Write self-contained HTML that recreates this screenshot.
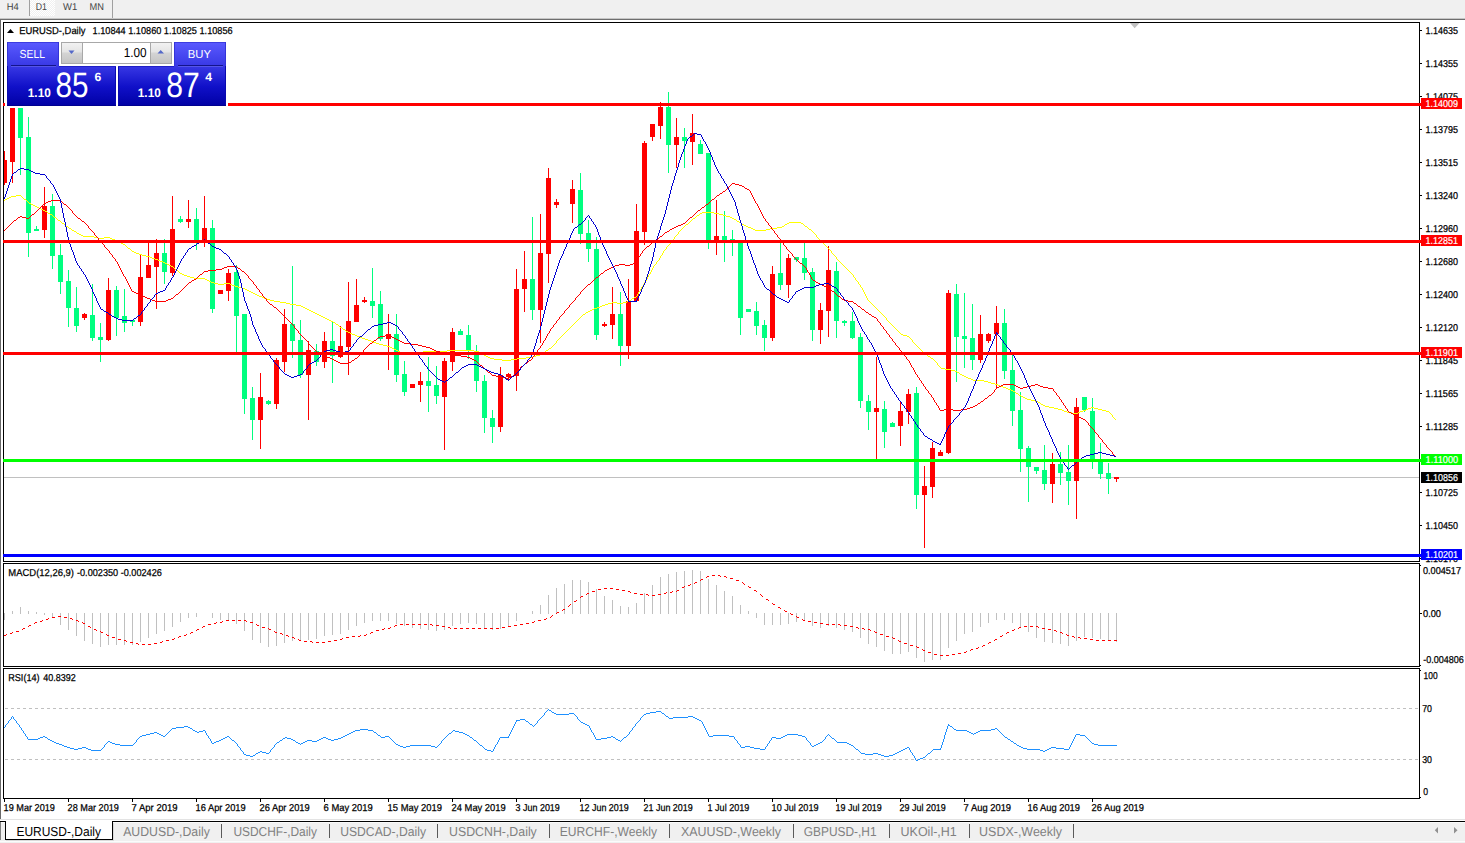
<!DOCTYPE html>
<html><head><meta charset="utf-8"><title>EURUSD-,Daily</title>
<style>html,body{margin:0;padding:0;background:#fff}body{width:1465px;height:843px;overflow:hidden;position:relative}svg{position:absolute;left:0;top:0;display:block}text{font-family:"Liberation Sans",sans-serif;white-space:pre;text-rendering:geometricPrecision}</style></head><body>
<svg width="1465" height="843" viewBox="0 0 1465 843">
<defs>
<clipPath id="cm"><rect x="4" y="23" width="1415" height="538"/></clipPath>
<linearGradient id="gb" x1="0" y1="42" x2="0" y2="106" gradientUnits="userSpaceOnUse"><stop offset="0" stop-color="#5a5aff"/><stop offset="0.36" stop-color="#3a3ae6"/><stop offset="0.7" stop-color="#1010c8"/><stop offset="1" stop-color="#0000a4"/></linearGradient>
<linearGradient id="gs" x1="0" y1="0" x2="0" y2="1"><stop offset="0" stop-color="#f2f2f2"/><stop offset="0.45" stop-color="#e4e4e4"/><stop offset="0.5" stop-color="#d4d4d4"/><stop offset="1" stop-color="#c4c4c4"/></linearGradient>
<pattern id="dots" width="2" height="2" patternUnits="userSpaceOnUse"><rect width="2" height="2" fill="#f0f0f0"/><rect width="1" height="1" fill="#fff"/><rect x="1" y="1" width="1" height="1" fill="#fff"/></pattern>
</defs>
<g shape-rendering="crispEdges">
<rect x="0" y="0" width="1465" height="18" fill="#f0f0f0"/>
<rect x="0" y="18" width="1465" height="1" fill="#c6c6c6"/>
<rect x="0" y="19" width="1465" height="1" fill="#6e6e6e"/>
<rect x="30" y="0" width="25" height="16" fill="url(#dots)"/>
<rect x="29" y="0" width="1" height="16" fill="#a0a0a0"/>
<rect x="112" y="0" width="1" height="18" fill="#a0a0a0"/>
<rect x="0" y="20" width="1" height="800" fill="#696969"/>
<rect x="3" y="22" width="1417" height="1" fill="#000"/>
<rect x="3" y="561" width="1417" height="1" fill="#000"/>
<rect x="3" y="22" width="1" height="540" fill="#000"/>
<rect x="1419" y="22" width="1" height="540" fill="#000"/>
<rect x="3" y="563" width="1417" height="1" fill="#000"/>
<rect x="3" y="666" width="1417" height="1" fill="#000"/>
<rect x="3" y="563" width="1" height="104" fill="#000"/>
<rect x="1419" y="563" width="1" height="104" fill="#000"/>
<rect x="3" y="668" width="1417" height="1" fill="#000"/>
<rect x="3" y="798" width="1417" height="1" fill="#000"/>
<rect x="3" y="668" width="1" height="131" fill="#000"/>
<rect x="1419" y="668" width="1" height="131" fill="#000"/>
<rect x="1420" y="30" width="2" height="1" fill="#000"/>
<rect x="1420" y="63" width="2" height="1" fill="#000"/>
<rect x="1420" y="96" width="2" height="1" fill="#000"/>
<rect x="1420" y="129" width="2" height="1" fill="#000"/>
<rect x="1420" y="162" width="2" height="1" fill="#000"/>
<rect x="1420" y="195" width="2" height="1" fill="#000"/>
<rect x="1420" y="228" width="2" height="1" fill="#000"/>
<rect x="1420" y="261" width="2" height="1" fill="#000"/>
<rect x="1420" y="294" width="2" height="1" fill="#000"/>
<rect x="1420" y="327" width="2" height="1" fill="#000"/>
<rect x="1420" y="360" width="2" height="1" fill="#000"/>
<rect x="1420" y="393" width="2" height="1" fill="#000"/>
<rect x="1420" y="426" width="2" height="1" fill="#000"/>
<rect x="1420" y="459" width="2" height="1" fill="#000"/>
<rect x="1420" y="492" width="2" height="1" fill="#000"/>
<rect x="1420" y="525" width="2" height="1" fill="#000"/>
<rect x="1420" y="558" width="2" height="1" fill="#000"/>
<rect x="1420" y="565" width="1" height="1" fill="#000"/>
<rect x="1420" y="613" width="2" height="1" fill="#000"/>
<rect x="1420" y="665" width="1" height="1" fill="#000"/>
<rect x="1420" y="670" width="1" height="1" fill="#000"/>
<rect x="1420" y="797" width="1" height="1" fill="#000"/>
<rect x="4" y="799" width="1" height="3" fill="#000"/>
<rect x="68" y="799" width="1" height="3" fill="#000"/>
<rect x="132" y="799" width="1" height="3" fill="#000"/>
<rect x="196" y="799" width="1" height="3" fill="#000"/>
<rect x="260" y="799" width="1" height="3" fill="#000"/>
<rect x="324" y="799" width="1" height="3" fill="#000"/>
<rect x="388" y="799" width="1" height="3" fill="#000"/>
<rect x="452" y="799" width="1" height="3" fill="#000"/>
<rect x="516" y="799" width="1" height="3" fill="#000"/>
<rect x="580" y="799" width="1" height="3" fill="#000"/>
<rect x="644" y="799" width="1" height="3" fill="#000"/>
<rect x="708" y="799" width="1" height="3" fill="#000"/>
<rect x="772" y="799" width="1" height="3" fill="#000"/>
<rect x="836" y="799" width="1" height="3" fill="#000"/>
<rect x="900" y="799" width="1" height="3" fill="#000"/>
<rect x="964" y="799" width="1" height="3" fill="#000"/>
<rect x="1028" y="799" width="1" height="3" fill="#000"/>
<rect x="1092" y="799" width="1" height="3" fill="#000"/>
</g>
<g clip-path="url(#cm)" shape-rendering="crispEdges">
<rect x="4" y="477" width="1415" height="1" fill="#c0c0c0"/>
<rect x="4" y="151" width="1" height="34" fill="#ff0000"/>
<rect x="2" y="160" width="5" height="23" fill="#ff0000"/>
<rect x="12" y="60" width="1" height="123" fill="#ff0000"/>
<rect x="10" y="60" width="5" height="102" fill="#ff0000"/>
<rect x="20" y="60" width="1" height="115" fill="#00ff7f"/>
<rect x="18" y="60" width="5" height="78" fill="#00ff7f"/>
<rect x="28" y="117" width="1" height="140" fill="#00ff7f"/>
<rect x="26" y="137" width="5" height="96" fill="#00ff7f"/>
<rect x="36" y="226" width="1" height="5" fill="#00ff7f"/>
<rect x="34" y="229" width="5" height="2" fill="#00ff7f"/>
<rect x="44" y="187" width="1" height="51" fill="#ff0000"/>
<rect x="42" y="206" width="5" height="24" fill="#ff0000"/>
<rect x="52" y="194" width="1" height="75" fill="#00ff7f"/>
<rect x="50" y="206" width="5" height="50" fill="#00ff7f"/>
<rect x="60" y="244" width="1" height="50" fill="#00ff7f"/>
<rect x="58" y="255" width="5" height="27" fill="#00ff7f"/>
<rect x="68" y="270" width="1" height="57" fill="#00ff7f"/>
<rect x="66" y="281" width="5" height="27" fill="#00ff7f"/>
<rect x="76" y="287" width="1" height="45" fill="#00ff7f"/>
<rect x="74" y="308" width="5" height="18" fill="#00ff7f"/>
<rect x="84" y="313" width="1" height="7" fill="#ff0000"/>
<rect x="82" y="314" width="5" height="4" fill="#ff0000"/>
<rect x="92" y="284" width="1" height="57" fill="#00ff7f"/>
<rect x="90" y="315" width="5" height="23" fill="#00ff7f"/>
<rect x="100" y="323" width="1" height="39" fill="#00ff7f"/>
<rect x="98" y="337" width="5" height="3" fill="#00ff7f"/>
<rect x="108" y="278" width="1" height="63" fill="#ff0000"/>
<rect x="106" y="290" width="5" height="50" fill="#ff0000"/>
<rect x="116" y="286" width="1" height="50" fill="#00ff7f"/>
<rect x="114" y="290" width="5" height="28" fill="#00ff7f"/>
<rect x="124" y="289" width="1" height="43" fill="#00ff7f"/>
<rect x="122" y="316" width="5" height="7" fill="#00ff7f"/>
<rect x="132" y="320" width="1" height="6" fill="#00ff7f"/>
<rect x="130" y="320" width="5" height="2" fill="#00ff7f"/>
<rect x="140" y="255" width="1" height="71" fill="#ff0000"/>
<rect x="138" y="277" width="5" height="45" fill="#ff0000"/>
<rect x="148" y="242" width="1" height="36" fill="#ff0000"/>
<rect x="146" y="265" width="5" height="13" fill="#ff0000"/>
<rect x="156" y="239" width="1" height="70" fill="#ff0000"/>
<rect x="154" y="253" width="5" height="14" fill="#ff0000"/>
<rect x="164" y="239" width="1" height="45" fill="#00ff7f"/>
<rect x="162" y="253" width="5" height="19" fill="#00ff7f"/>
<rect x="172" y="196" width="1" height="80" fill="#ff0000"/>
<rect x="170" y="229" width="5" height="44" fill="#ff0000"/>
<rect x="180" y="216" width="1" height="7" fill="#00ff7f"/>
<rect x="178" y="219" width="5" height="3" fill="#00ff7f"/>
<rect x="188" y="200" width="1" height="28" fill="#ff0000"/>
<rect x="186" y="219" width="5" height="3" fill="#ff0000"/>
<rect x="196" y="208" width="1" height="42" fill="#00ff7f"/>
<rect x="194" y="219" width="5" height="23" fill="#00ff7f"/>
<rect x="204" y="196" width="1" height="51" fill="#ff0000"/>
<rect x="202" y="228" width="5" height="12" fill="#ff0000"/>
<rect x="212" y="220" width="1" height="93" fill="#00ff7f"/>
<rect x="210" y="228" width="5" height="81" fill="#00ff7f"/>
<rect x="220" y="290" width="1" height="4" fill="#ff0000"/>
<rect x="218" y="290" width="5" height="4" fill="#ff0000"/>
<rect x="228" y="269" width="1" height="32" fill="#ff0000"/>
<rect x="226" y="273" width="5" height="18" fill="#ff0000"/>
<rect x="236" y="265" width="1" height="87" fill="#00ff7f"/>
<rect x="234" y="272" width="5" height="44" fill="#00ff7f"/>
<rect x="244" y="314" width="1" height="100" fill="#00ff7f"/>
<rect x="242" y="314" width="5" height="85" fill="#00ff7f"/>
<rect x="252" y="387" width="1" height="53" fill="#00ff7f"/>
<rect x="250" y="398" width="5" height="22" fill="#00ff7f"/>
<rect x="260" y="373" width="1" height="76" fill="#ff0000"/>
<rect x="258" y="397" width="5" height="23" fill="#ff0000"/>
<rect x="268" y="400" width="1" height="5" fill="#00ff7f"/>
<rect x="266" y="401" width="5" height="3" fill="#00ff7f"/>
<rect x="276" y="358" width="1" height="51" fill="#ff0000"/>
<rect x="274" y="360" width="5" height="44" fill="#ff0000"/>
<rect x="284" y="309" width="1" height="63" fill="#ff0000"/>
<rect x="282" y="324" width="5" height="38" fill="#ff0000"/>
<rect x="292" y="266" width="1" height="92" fill="#00ff7f"/>
<rect x="290" y="324" width="5" height="17" fill="#00ff7f"/>
<rect x="300" y="320" width="1" height="58" fill="#00ff7f"/>
<rect x="298" y="340" width="5" height="35" fill="#00ff7f"/>
<rect x="308" y="341" width="1" height="79" fill="#ff0000"/>
<rect x="306" y="350" width="5" height="25" fill="#ff0000"/>
<rect x="316" y="344" width="1" height="22" fill="#00ff7f"/>
<rect x="314" y="351" width="5" height="11" fill="#00ff7f"/>
<rect x="324" y="332" width="1" height="36" fill="#ff0000"/>
<rect x="322" y="341" width="5" height="21" fill="#ff0000"/>
<rect x="332" y="321" width="1" height="62" fill="#00ff7f"/>
<rect x="330" y="341" width="5" height="15" fill="#00ff7f"/>
<rect x="340" y="326" width="1" height="32" fill="#ff0000"/>
<rect x="338" y="346" width="5" height="11" fill="#ff0000"/>
<rect x="348" y="282" width="1" height="93" fill="#ff0000"/>
<rect x="346" y="321" width="5" height="26" fill="#ff0000"/>
<rect x="356" y="279" width="1" height="43" fill="#ff0000"/>
<rect x="354" y="305" width="5" height="17" fill="#ff0000"/>
<rect x="364" y="297" width="1" height="6" fill="#ff0000"/>
<rect x="362" y="300" width="5" height="2" fill="#ff0000"/>
<rect x="372" y="268" width="1" height="50" fill="#00ff7f"/>
<rect x="370" y="301" width="5" height="5" fill="#00ff7f"/>
<rect x="380" y="291" width="1" height="50" fill="#00ff7f"/>
<rect x="378" y="304" width="5" height="35" fill="#00ff7f"/>
<rect x="388" y="314" width="1" height="56" fill="#ff0000"/>
<rect x="386" y="334" width="5" height="5" fill="#ff0000"/>
<rect x="396" y="314" width="1" height="68" fill="#00ff7f"/>
<rect x="394" y="334" width="5" height="41" fill="#00ff7f"/>
<rect x="404" y="361" width="1" height="35" fill="#00ff7f"/>
<rect x="402" y="374" width="5" height="18" fill="#00ff7f"/>
<rect x="412" y="384" width="1" height="4" fill="#ff0000"/>
<rect x="410" y="384" width="5" height="4" fill="#ff0000"/>
<rect x="420" y="372" width="1" height="30" fill="#ff0000"/>
<rect x="418" y="381" width="5" height="4" fill="#ff0000"/>
<rect x="428" y="357" width="1" height="55" fill="#00ff7f"/>
<rect x="426" y="381" width="5" height="5" fill="#00ff7f"/>
<rect x="436" y="366" width="1" height="38" fill="#00ff7f"/>
<rect x="434" y="385" width="5" height="11" fill="#00ff7f"/>
<rect x="444" y="358" width="1" height="92" fill="#ff0000"/>
<rect x="442" y="361" width="5" height="36" fill="#ff0000"/>
<rect x="452" y="328" width="1" height="43" fill="#ff0000"/>
<rect x="450" y="332" width="5" height="30" fill="#ff0000"/>
<rect x="460" y="329" width="1" height="6" fill="#00ff7f"/>
<rect x="458" y="331" width="5" height="4" fill="#00ff7f"/>
<rect x="468" y="325" width="1" height="34" fill="#00ff7f"/>
<rect x="466" y="335" width="5" height="16" fill="#00ff7f"/>
<rect x="476" y="345" width="1" height="47" fill="#00ff7f"/>
<rect x="474" y="351" width="5" height="30" fill="#00ff7f"/>
<rect x="484" y="375" width="1" height="58" fill="#00ff7f"/>
<rect x="482" y="381" width="5" height="37" fill="#00ff7f"/>
<rect x="492" y="410" width="1" height="33" fill="#00ff7f"/>
<rect x="490" y="418" width="5" height="9" fill="#00ff7f"/>
<rect x="500" y="367" width="1" height="65" fill="#ff0000"/>
<rect x="498" y="375" width="5" height="52" fill="#ff0000"/>
<rect x="508" y="373" width="1" height="7" fill="#ff0000"/>
<rect x="506" y="374" width="5" height="3" fill="#ff0000"/>
<rect x="516" y="269" width="1" height="122" fill="#ff0000"/>
<rect x="514" y="289" width="5" height="87" fill="#ff0000"/>
<rect x="524" y="251" width="1" height="61" fill="#ff0000"/>
<rect x="522" y="279" width="5" height="10" fill="#ff0000"/>
<rect x="532" y="217" width="1" height="103" fill="#00ff7f"/>
<rect x="530" y="279" width="5" height="31" fill="#00ff7f"/>
<rect x="540" y="214" width="1" height="129" fill="#ff0000"/>
<rect x="538" y="253" width="5" height="57" fill="#ff0000"/>
<rect x="548" y="168" width="1" height="115" fill="#ff0000"/>
<rect x="546" y="178" width="5" height="76" fill="#ff0000"/>
<rect x="556" y="199" width="1" height="9" fill="#ff0000"/>
<rect x="554" y="202" width="5" height="3" fill="#ff0000"/>
<rect x="572" y="180" width="1" height="43" fill="#ff0000"/>
<rect x="570" y="189" width="5" height="15" fill="#ff0000"/>
<rect x="580" y="173" width="1" height="71" fill="#00ff7f"/>
<rect x="578" y="190" width="5" height="44" fill="#00ff7f"/>
<rect x="588" y="220" width="1" height="42" fill="#00ff7f"/>
<rect x="586" y="233" width="5" height="16" fill="#00ff7f"/>
<rect x="596" y="237" width="1" height="103" fill="#00ff7f"/>
<rect x="594" y="249" width="5" height="86" fill="#00ff7f"/>
<rect x="604" y="322" width="1" height="5" fill="#ff0000"/>
<rect x="602" y="324" width="5" height="2" fill="#ff0000"/>
<rect x="612" y="287" width="1" height="52" fill="#ff0000"/>
<rect x="610" y="314" width="5" height="11" fill="#ff0000"/>
<rect x="620" y="292" width="1" height="74" fill="#00ff7f"/>
<rect x="618" y="314" width="5" height="32" fill="#00ff7f"/>
<rect x="628" y="279" width="1" height="80" fill="#ff0000"/>
<rect x="626" y="301" width="5" height="45" fill="#ff0000"/>
<rect x="636" y="204" width="1" height="97" fill="#ff0000"/>
<rect x="634" y="231" width="5" height="70" fill="#ff0000"/>
<rect x="644" y="141" width="1" height="104" fill="#ff0000"/>
<rect x="642" y="143" width="5" height="89" fill="#ff0000"/>
<rect x="652" y="124" width="1" height="17" fill="#ff0000"/>
<rect x="650" y="124" width="5" height="13" fill="#ff0000"/>
<rect x="660" y="102" width="1" height="37" fill="#ff0000"/>
<rect x="658" y="107" width="5" height="19" fill="#ff0000"/>
<rect x="668" y="92" width="1" height="81" fill="#00ff7f"/>
<rect x="666" y="107" width="5" height="38" fill="#00ff7f"/>
<rect x="676" y="118" width="1" height="50" fill="#ff0000"/>
<rect x="674" y="137" width="5" height="8" fill="#ff0000"/>
<rect x="684" y="128" width="1" height="40" fill="#00ff7f"/>
<rect x="682" y="137" width="5" height="4" fill="#00ff7f"/>
<rect x="692" y="114" width="1" height="51" fill="#ff0000"/>
<rect x="690" y="133" width="5" height="9" fill="#ff0000"/>
<rect x="700" y="140" width="1" height="14" fill="#00ff7f"/>
<rect x="698" y="144" width="5" height="10" fill="#00ff7f"/>
<rect x="708" y="153" width="1" height="96" fill="#00ff7f"/>
<rect x="706" y="153" width="5" height="88" fill="#00ff7f"/>
<rect x="716" y="200" width="1" height="55" fill="#ff0000"/>
<rect x="714" y="236" width="5" height="5" fill="#ff0000"/>
<rect x="724" y="211" width="1" height="51" fill="#00ff7f"/>
<rect x="722" y="236" width="5" height="5" fill="#00ff7f"/>
<rect x="732" y="230" width="1" height="26" fill="#00ff7f"/>
<rect x="730" y="239" width="5" height="2" fill="#00ff7f"/>
<rect x="740" y="241" width="1" height="94" fill="#00ff7f"/>
<rect x="738" y="241" width="5" height="77" fill="#00ff7f"/>
<rect x="748" y="309" width="1" height="3" fill="#00ff7f"/>
<rect x="746" y="309" width="5" height="3" fill="#00ff7f"/>
<rect x="756" y="302" width="1" height="33" fill="#00ff7f"/>
<rect x="754" y="311" width="5" height="15" fill="#00ff7f"/>
<rect x="764" y="320" width="1" height="31" fill="#00ff7f"/>
<rect x="762" y="325" width="5" height="13" fill="#00ff7f"/>
<rect x="772" y="266" width="1" height="75" fill="#ff0000"/>
<rect x="770" y="274" width="5" height="64" fill="#ff0000"/>
<rect x="780" y="243" width="1" height="47" fill="#00ff7f"/>
<rect x="778" y="273" width="5" height="12" fill="#00ff7f"/>
<rect x="788" y="254" width="1" height="44" fill="#ff0000"/>
<rect x="786" y="258" width="5" height="27" fill="#ff0000"/>
<rect x="796" y="257" width="1" height="5" fill="#00ff7f"/>
<rect x="794" y="257" width="5" height="3" fill="#00ff7f"/>
<rect x="804" y="243" width="1" height="37" fill="#00ff7f"/>
<rect x="802" y="258" width="5" height="15" fill="#00ff7f"/>
<rect x="812" y="268" width="1" height="73" fill="#00ff7f"/>
<rect x="810" y="272" width="5" height="58" fill="#00ff7f"/>
<rect x="820" y="303" width="1" height="41" fill="#ff0000"/>
<rect x="818" y="310" width="5" height="20" fill="#ff0000"/>
<rect x="828" y="246" width="1" height="91" fill="#ff0000"/>
<rect x="826" y="270" width="5" height="41" fill="#ff0000"/>
<rect x="836" y="262" width="1" height="76" fill="#00ff7f"/>
<rect x="834" y="271" width="5" height="50" fill="#00ff7f"/>
<rect x="844" y="320" width="1" height="6" fill="#00ff7f"/>
<rect x="842" y="321" width="5" height="2" fill="#00ff7f"/>
<rect x="852" y="312" width="1" height="27" fill="#00ff7f"/>
<rect x="850" y="321" width="5" height="17" fill="#00ff7f"/>
<rect x="860" y="333" width="1" height="75" fill="#00ff7f"/>
<rect x="858" y="337" width="5" height="64" fill="#00ff7f"/>
<rect x="868" y="395" width="1" height="35" fill="#00ff7f"/>
<rect x="866" y="401" width="5" height="11" fill="#00ff7f"/>
<rect x="876" y="357" width="1" height="102" fill="#ff0000"/>
<rect x="874" y="408" width="5" height="4" fill="#ff0000"/>
<rect x="884" y="401" width="1" height="47" fill="#00ff7f"/>
<rect x="882" y="409" width="5" height="23" fill="#00ff7f"/>
<rect x="892" y="422" width="1" height="5" fill="#00ff7f"/>
<rect x="890" y="423" width="5" height="4" fill="#00ff7f"/>
<rect x="900" y="401" width="1" height="45" fill="#ff0000"/>
<rect x="898" y="411" width="5" height="15" fill="#ff0000"/>
<rect x="908" y="389" width="1" height="35" fill="#ff0000"/>
<rect x="906" y="394" width="5" height="18" fill="#ff0000"/>
<rect x="916" y="387" width="1" height="122" fill="#00ff7f"/>
<rect x="914" y="393" width="5" height="102" fill="#00ff7f"/>
<rect x="924" y="466" width="1" height="82" fill="#ff0000"/>
<rect x="922" y="486" width="5" height="9" fill="#ff0000"/>
<rect x="932" y="442" width="1" height="56" fill="#ff0000"/>
<rect x="930" y="448" width="5" height="39" fill="#ff0000"/>
<rect x="940" y="450" width="1" height="6" fill="#ff0000"/>
<rect x="938" y="452" width="5" height="4" fill="#ff0000"/>
<rect x="948" y="290" width="1" height="164" fill="#ff0000"/>
<rect x="946" y="293" width="5" height="160" fill="#ff0000"/>
<rect x="956" y="284" width="1" height="98" fill="#00ff7f"/>
<rect x="954" y="294" width="5" height="43" fill="#00ff7f"/>
<rect x="964" y="293" width="1" height="75" fill="#00ff7f"/>
<rect x="962" y="336" width="5" height="3" fill="#00ff7f"/>
<rect x="972" y="304" width="1" height="66" fill="#00ff7f"/>
<rect x="970" y="338" width="5" height="22" fill="#00ff7f"/>
<rect x="980" y="315" width="1" height="48" fill="#ff0000"/>
<rect x="978" y="334" width="5" height="26" fill="#ff0000"/>
<rect x="988" y="333" width="1" height="10" fill="#ff0000"/>
<rect x="986" y="334" width="5" height="7" fill="#ff0000"/>
<rect x="996" y="306" width="1" height="82" fill="#ff0000"/>
<rect x="994" y="323" width="5" height="11" fill="#ff0000"/>
<rect x="1004" y="309" width="1" height="70" fill="#00ff7f"/>
<rect x="1002" y="323" width="5" height="48" fill="#00ff7f"/>
<rect x="1012" y="355" width="1" height="71" fill="#00ff7f"/>
<rect x="1010" y="370" width="5" height="41" fill="#00ff7f"/>
<rect x="1020" y="392" width="1" height="80" fill="#00ff7f"/>
<rect x="1018" y="410" width="5" height="39" fill="#00ff7f"/>
<rect x="1028" y="446" width="1" height="56" fill="#00ff7f"/>
<rect x="1026" y="448" width="5" height="19" fill="#00ff7f"/>
<rect x="1036" y="467" width="1" height="7" fill="#00ff7f"/>
<rect x="1034" y="467" width="5" height="4" fill="#00ff7f"/>
<rect x="1044" y="445" width="1" height="45" fill="#00ff7f"/>
<rect x="1042" y="470" width="5" height="14" fill="#00ff7f"/>
<rect x="1052" y="453" width="1" height="50" fill="#ff0000"/>
<rect x="1050" y="464" width="5" height="20" fill="#ff0000"/>
<rect x="1060" y="452" width="1" height="33" fill="#00ff7f"/>
<rect x="1058" y="464" width="5" height="9" fill="#00ff7f"/>
<rect x="1068" y="445" width="1" height="60" fill="#00ff7f"/>
<rect x="1066" y="472" width="5" height="9" fill="#00ff7f"/>
<rect x="1076" y="398" width="1" height="121" fill="#ff0000"/>
<rect x="1074" y="407" width="5" height="74" fill="#ff0000"/>
<rect x="1084" y="397" width="1" height="15" fill="#00ff7f"/>
<rect x="1082" y="397" width="5" height="13" fill="#00ff7f"/>
<rect x="1092" y="398" width="1" height="71" fill="#00ff7f"/>
<rect x="1090" y="411" width="5" height="50" fill="#00ff7f"/>
<rect x="1100" y="443" width="1" height="36" fill="#00ff7f"/>
<rect x="1098" y="462" width="5" height="12" fill="#00ff7f"/>
<rect x="1108" y="463" width="1" height="31" fill="#00ff7f"/>
<rect x="1106" y="473" width="5" height="6" fill="#00ff7f"/>
<rect x="1116" y="477" width="1" height="5" fill="#ff0000"/>
<rect x="1114" y="477" width="5" height="2" fill="#ff0000"/>
<path d="M16 195h5v1h-5zM11 196h5v1h-5zM21 196h1v1h-1zM9 197h2v1h-2zM22 197h1v1h-1zM7 198h2v1h-2zM23 198h1v1h-1zM5 199h2v1h-2zM24 199h2v1h-2zM4 200h1v1h-1zM26 200h1v1h-1zM27 201h1v1h-1zM28 202h1v1h-1zM29 203h2v1h-2zM31 204h2v1h-2zM33 205h2v1h-2zM35 206h2v1h-2zM37 207h2v1h-2zM39 208h2v1h-2zM41 209h2v1h-2zM43 210h2v1h-2zM45 211h2v1h-2zM47 212h1v1h-1zM702 212h12v1h-12zM48 213h2v1h-2zM700 213h2v1h-2zM714 213h5v1h-5zM50 214h2v1h-2zM699 214h1v1h-1zM719 214h4v1h-4zM52 215h1v1h-1zM697 215h2v1h-2zM723 215h3v1h-3zM53 216h1v1h-1zM696 216h1v1h-1zM726 216h4v1h-4zM54 217h2v1h-2zM695 217h1v1h-1zM730 217h2v1h-2zM56 218h1v1h-1zM693 218h2v1h-2zM732 218h2v1h-2zM57 219h1v1h-1zM692 219h1v1h-1zM734 219h2v1h-2zM58 220h2v1h-2zM691 220h1v1h-1zM736 220h1v1h-1zM60 221h1v1h-1zM690 221h1v1h-1zM737 221h2v1h-2zM61 222h1v1h-1zM689 222h1v1h-1zM739 222h2v1h-2zM789 222h12v1h-12zM62 223h2v1h-2zM688 223h1v1h-1zM741 223h1v1h-1zM787 223h2v1h-2zM801 223h2v1h-2zM64 224h1v1h-1zM686 224h2v1h-2zM742 224h2v1h-2zM785 224h2v1h-2zM803 224h1v1h-1zM65 225h1v1h-1zM685 225h1v1h-1zM744 225h2v1h-2zM784 225h1v1h-1zM804 225h1v1h-1zM66 226h2v1h-2zM684 226h1v1h-1zM746 226h2v1h-2zM782 226h2v1h-2zM805 226h2v1h-2zM68 227h1v1h-1zM683 227h1v1h-1zM748 227h3v1h-3zM777 227h5v1h-5zM807 227h1v1h-1zM69 228h2v1h-2zM682 228h1v1h-1zM751 228h2v1h-2zM770 228h7v1h-7zM808 228h1v1h-1zM71 229h1v1h-1zM681 229h1v1h-1zM753 229h2v1h-2zM766 229h4v1h-4zM809 229h2v1h-2zM72 230h2v1h-2zM680 230h1v1h-1zM755 230h11v1h-11zM811 230h1v1h-1zM74 231h2v1h-2zM679 231h1v1h-1zM812 231h1v1h-1zM76 232h1v1h-1zM678 232h1v2h-1zM813 232h1v1h-1zM77 233h2v1h-2zM814 233h1v1h-1zM79 234h2v1h-2zM677 234h1v1h-1zM815 234h1v1h-1zM81 235h2v1h-2zM676 235h1v1h-1zM816 235h1v2h-1zM83 236h11v1h-11zM675 236h1v1h-1zM94 237h4v1h-4zM104 237h6v1h-6zM674 237h1v2h-1zM817 237h1v1h-1zM98 238h6v1h-6zM110 238h2v1h-2zM818 238h1v1h-1zM112 239h3v1h-3zM673 239h1v1h-1zM819 239h1v1h-1zM115 240h2v1h-2zM672 240h1v1h-1zM820 240h1v1h-1zM117 241h2v1h-2zM671 241h1v1h-1zM821 241h1v1h-1zM119 242h2v1h-2zM670 242h1v2h-1zM822 242h1v1h-1zM121 243h2v1h-2zM823 243h1v1h-1zM123 244h2v1h-2zM669 244h1v1h-1zM824 244h1v1h-1zM125 245h1v1h-1zM668 245h1v1h-1zM825 245h1v1h-1zM126 246h1v1h-1zM667 246h1v1h-1zM826 246h1v1h-1zM127 247h1v1h-1zM666 247h1v2h-1zM827 247h1v1h-1zM128 248h2v1h-2zM828 248h1v1h-1zM130 249h1v1h-1zM665 249h1v1h-1zM829 249h1v1h-1zM131 250h1v1h-1zM664 250h1v1h-1zM830 250h1v1h-1zM132 251h2v1h-2zM663 251h1v2h-1zM831 251h1v2h-1zM134 252h2v1h-2zM136 253h3v1h-3zM662 253h1v2h-1zM832 253h1v1h-1zM139 254h3v1h-3zM833 254h1v1h-1zM142 255h4v1h-4zM661 255h1v1h-1zM834 255h1v1h-1zM146 256h4v1h-4zM660 256h1v2h-1zM835 256h1v1h-1zM150 257h2v1h-2zM836 257h1v2h-1zM152 258h3v1h-3zM659 258h1v2h-1zM155 259h3v1h-3zM837 259h1v1h-1zM158 260h2v1h-2zM658 260h1v1h-1zM838 260h1v1h-1zM160 261h3v1h-3zM657 261h1v1h-1zM839 261h1v1h-1zM163 262h2v1h-2zM656 262h1v2h-1zM840 262h1v1h-1zM165 263h2v1h-2zM841 263h1v1h-1zM167 264h2v1h-2zM655 264h1v1h-1zM842 264h1v1h-1zM169 265h2v1h-2zM654 265h1v1h-1zM843 265h1v1h-1zM171 266h2v1h-2zM653 266h1v2h-1zM844 266h1v1h-1zM173 267h1v1h-1zM845 267h1v1h-1zM174 268h1v1h-1zM652 268h1v2h-1zM846 268h1v1h-1zM175 269h1v1h-1zM847 269h1v1h-1zM176 270h2v1h-2zM651 270h1v2h-1zM848 270h1v1h-1zM178 271h1v1h-1zM849 271h1v1h-1zM179 272h1v1h-1zM650 272h1v2h-1zM850 272h1v1h-1zM180 273h2v1h-2zM851 273h1v1h-1zM182 274h2v1h-2zM649 274h1v1h-1zM852 274h1v1h-1zM184 275h3v1h-3zM648 275h1v2h-1zM853 275h1v2h-1zM187 276h3v1h-3zM190 277h4v1h-4zM647 277h1v2h-1zM854 277h1v1h-1zM194 278h11v1h-11zM855 278h1v2h-1zM205 279h2v1h-2zM646 279h1v2h-1zM207 280h2v1h-2zM856 280h1v1h-1zM209 281h2v1h-2zM645 281h1v1h-1zM857 281h1v1h-1zM211 282h3v1h-3zM644 282h1v2h-1zM858 282h1v2h-1zM214 283h4v1h-4zM224 283h6v1h-6zM218 284h6v1h-6zM230 284h2v1h-2zM643 284h1v2h-1zM859 284h1v1h-1zM232 285h3v1h-3zM860 285h1v2h-1zM235 286h3v1h-3zM642 286h1v1h-1zM238 287h4v1h-4zM641 287h1v2h-1zM861 287h1v1h-1zM242 288h3v1h-3zM862 288h1v2h-1zM245 289h2v1h-2zM640 289h1v2h-1zM247 290h2v1h-2zM863 290h1v2h-1zM249 291h2v1h-2zM639 291h1v1h-1zM251 292h2v1h-2zM638 292h1v2h-1zM864 292h1v2h-1zM253 293h2v1h-2zM255 294h2v1h-2zM637 294h1v2h-1zM865 294h1v2h-1zM257 295h2v1h-2zM259 296h3v1h-3zM636 296h1v1h-1zM866 296h1v2h-1zM262 297h2v1h-2zM634 297h2v1h-2zM264 298h3v1h-3zM632 298h2v1h-2zM867 298h1v2h-1zM267 299h3v1h-3zM631 299h1v1h-1zM270 300h4v1h-4zM629 300h2v1h-2zM868 300h1v1h-1zM274 301h6v1h-6zM627 301h2v1h-2zM869 301h1v1h-1zM280 302h6v1h-6zM612 302h5v1h-5zM623 302h4v1h-4zM870 302h1v1h-1zM286 303h4v1h-4zM608 303h4v1h-4zM617 303h6v1h-6zM871 303h1v1h-1zM290 304h6v1h-6zM605 304h3v1h-3zM872 304h1v1h-1zM296 305h5v1h-5zM602 305h3v1h-3zM873 305h1v1h-1zM301 306h2v1h-2zM600 306h2v1h-2zM874 306h1v1h-1zM303 307h2v1h-2zM597 307h3v1h-3zM875 307h1v1h-1zM305 308h2v1h-2zM594 308h3v1h-3zM876 308h1v1h-1zM307 309h2v1h-2zM592 309h2v1h-2zM877 309h1v1h-1zM309 310h2v1h-2zM590 310h2v1h-2zM878 310h1v1h-1zM311 311h2v1h-2zM588 311h2v1h-2zM879 311h1v1h-1zM313 312h2v1h-2zM586 312h2v1h-2zM880 312h1v1h-1zM315 313h2v1h-2zM585 313h1v1h-1zM881 313h1v1h-1zM317 314h2v1h-2zM583 314h2v1h-2zM882 314h1v1h-1zM319 315h2v1h-2zM582 315h1v1h-1zM883 315h1v1h-1zM321 316h2v1h-2zM581 316h1v1h-1zM884 316h1v1h-1zM323 317h2v1h-2zM580 317h1v1h-1zM885 317h1v1h-1zM325 318h2v1h-2zM579 318h1v1h-1zM886 318h1v2h-1zM327 319h2v1h-2zM578 319h1v1h-1zM329 320h2v1h-2zM577 320h1v1h-1zM887 320h1v1h-1zM331 321h2v1h-2zM576 321h1v1h-1zM888 321h1v1h-1zM333 322h2v1h-2zM575 322h1v1h-1zM889 322h1v1h-1zM335 323h1v1h-1zM574 323h1v1h-1zM890 323h1v1h-1zM336 324h2v1h-2zM573 324h1v1h-1zM891 324h1v1h-1zM338 325h1v1h-1zM572 325h1v1h-1zM892 325h1v1h-1zM339 326h1v1h-1zM571 326h1v1h-1zM893 326h1v1h-1zM340 327h2v1h-2zM570 327h1v1h-1zM894 327h1v1h-1zM342 328h1v1h-1zM569 328h1v1h-1zM895 328h1v1h-1zM343 329h2v1h-2zM568 329h1v1h-1zM896 329h1v1h-1zM345 330h1v1h-1zM567 330h1v1h-1zM897 330h1v1h-1zM346 331h2v1h-2zM566 331h1v1h-1zM898 331h1v1h-1zM348 332h2v1h-2zM565 332h1v1h-1zM899 332h1v1h-1zM350 333h2v1h-2zM564 333h1v1h-1zM900 333h1v1h-1zM352 334h3v1h-3zM563 334h1v1h-1zM901 334h2v1h-2zM355 335h2v1h-2zM562 335h1v1h-1zM903 335h4v1h-4zM357 336h3v1h-3zM561 336h1v1h-1zM907 336h2v1h-2zM360 337h2v1h-2zM560 337h1v1h-1zM909 337h1v1h-1zM362 338h3v1h-3zM559 338h1v1h-1zM910 338h1v1h-1zM365 339h3v1h-3zM558 339h1v1h-1zM911 339h1v1h-1zM368 340h3v1h-3zM557 340h1v1h-1zM912 340h1v2h-1zM371 341h2v1h-2zM556 341h1v2h-1zM373 342h3v1h-3zM913 342h1v1h-1zM376 343h3v1h-3zM555 343h1v1h-1zM914 343h1v1h-1zM379 344h4v1h-4zM554 344h1v1h-1zM915 344h1v1h-1zM383 345h4v1h-4zM553 345h1v1h-1zM916 345h1v1h-1zM387 346h3v1h-3zM552 346h1v1h-1zM917 346h1v1h-1zM390 347h2v1h-2zM551 347h1v1h-1zM918 347h1v1h-1zM392 348h2v1h-2zM549 348h2v1h-2zM919 348h1v1h-1zM394 349h2v1h-2zM548 349h1v1h-1zM920 349h1v1h-1zM396 350h2v1h-2zM447 350h27v1h-27zM546 350h2v1h-2zM921 350h1v1h-1zM398 351h2v1h-2zM423 351h24v1h-24zM474 351h5v1h-5zM545 351h1v1h-1zM922 351h1v1h-1zM400 352h2v1h-2zM421 352h2v1h-2zM479 352h2v1h-2zM544 352h1v1h-1zM923 352h1v1h-1zM402 353h19v1h-19zM481 353h2v1h-2zM542 353h2v1h-2zM924 353h1v1h-1zM483 354h1v1h-1zM540 354h2v1h-2zM925 354h2v1h-2zM484 355h2v1h-2zM536 355h4v1h-4zM927 355h1v1h-1zM486 356h2v1h-2zM533 356h3v1h-3zM928 356h2v1h-2zM488 357h2v1h-2zM526 357h7v1h-7zM930 357h1v1h-1zM490 358h4v1h-4zM517 358h9v1h-9zM931 358h2v1h-2zM494 359h8v1h-8zM511 359h6v1h-6zM933 359h1v1h-1zM502 360h9v1h-9zM934 360h1v1h-1zM935 361h1v1h-1zM936 362h1v1h-1zM937 363h1v2h-1zM938 365h1v1h-1zM939 366h1v1h-1zM940 367h1v1h-1zM941 368h4v1h-4zM945 369h6v1h-6zM951 370h4v1h-4zM955 371h2v1h-2zM957 372h2v1h-2zM959 373h1v1h-1zM960 374h2v1h-2zM962 375h2v1h-2zM964 376h2v1h-2zM966 377h2v1h-2zM968 378h3v1h-3zM971 379h2v1h-2zM973 380h11v1h-11zM984 381h4v1h-4zM988 382h3v1h-3zM991 383h4v1h-4zM995 384h3v1h-3zM998 385h2v1h-2zM1000 386h3v1h-3zM1003 387h3v1h-3zM1006 388h2v1h-2zM1008 389h3v1h-3zM1011 390h2v1h-2zM1013 391h2v1h-2zM1015 392h1v1h-1zM1016 393h2v1h-2zM1018 394h1v1h-1zM1019 395h2v1h-2zM1021 396h2v1h-2zM1023 397h2v1h-2zM1025 398h2v1h-2zM1027 399h4v1h-4zM1031 400h4v1h-4zM1035 401h3v1h-3zM1038 402h2v1h-2zM1040 403h1v1h-1zM1041 404h2v1h-2zM1043 405h2v1h-2zM1045 406h4v1h-4zM1049 407h5v1h-5zM1091 407h3v1h-3zM1054 408h4v1h-4zM1088 408h3v1h-3zM1094 408h4v1h-4zM1058 409h4v1h-4zM1086 409h2v1h-2zM1098 409h4v1h-4zM1062 410h2v1h-2zM1083 410h3v1h-3zM1102 410h4v1h-4zM1064 411h3v1h-3zM1080 411h3v1h-3zM1106 411h3v1h-3zM1067 412h5v1h-5zM1078 412h2v1h-2zM1109 412h1v1h-1zM1072 413h6v1h-6zM1110 413h1v1h-1zM1111 414h1v1h-1zM1112 415h1v2h-1zM1113 417h1v1h-1zM1114 418h1v1h-1zM1115 419h1v1h-1z" fill="#ffff00"/>
<path d="M732 183h3v1h-3zM731 184h1v1h-1zM735 184h4v1h-4zM730 185h1v1h-1zM739 185h3v1h-3zM729 186h1v1h-1zM742 186h2v1h-2zM728 187h1v1h-1zM744 187h1v1h-1zM727 188h1v1h-1zM745 188h2v1h-2zM726 189h1v1h-1zM747 189h2v1h-2zM725 190h1v1h-1zM749 190h1v1h-1zM723 191h2v1h-2zM750 191h1v2h-1zM722 192h1v1h-1zM720 193h2v1h-2zM751 193h1v2h-1zM719 194h1v1h-1zM717 195h2v1h-2zM752 195h1v2h-1zM716 196h1v1h-1zM715 197h1v1h-1zM753 197h1v2h-1zM714 198h1v1h-1zM712 199h2v1h-2zM754 199h1v2h-1zM51 200h10v1h-10zM711 200h1v1h-1zM48 201h3v1h-3zM61 201h1v1h-1zM710 201h1v1h-1zM755 201h1v2h-1zM46 202h2v1h-2zM62 202h1v1h-1zM709 202h1v1h-1zM44 203h2v1h-2zM63 203h1v1h-1zM708 203h1v1h-1zM756 203h1v1h-1zM43 204h1v1h-1zM64 204h2v1h-2zM706 204h2v1h-2zM757 204h1v2h-1zM42 205h1v1h-1zM66 205h1v1h-1zM705 205h1v1h-1zM41 206h1v1h-1zM67 206h1v1h-1zM704 206h1v1h-1zM758 206h1v2h-1zM40 207h1v1h-1zM68 207h1v1h-1zM702 207h2v1h-2zM39 208h1v1h-1zM69 208h1v1h-1zM701 208h1v1h-1zM759 208h1v2h-1zM38 209h1v1h-1zM70 209h1v1h-1zM700 209h1v1h-1zM37 210h1v1h-1zM71 210h1v1h-1zM698 210h2v1h-2zM760 210h1v2h-1zM36 211h1v1h-1zM72 211h1v2h-1zM697 211h1v1h-1zM35 212h1v1h-1zM696 212h1v1h-1zM761 212h1v2h-1zM34 213h1v1h-1zM73 213h1v1h-1zM695 213h1v1h-1zM32 214h2v1h-2zM74 214h1v1h-1zM694 214h1v1h-1zM762 214h1v2h-1zM31 215h1v1h-1zM75 215h1v1h-1zM693 215h1v1h-1zM20 216h2v1h-2zM30 216h1v1h-1zM76 216h1v1h-1zM692 216h1v1h-1zM763 216h1v2h-1zM18 217h2v1h-2zM22 217h4v1h-4zM29 217h1v1h-1zM77 217h1v1h-1zM690 217h2v1h-2zM17 218h1v1h-1zM26 218h3v1h-3zM78 218h2v1h-2zM689 218h1v1h-1zM764 218h1v1h-1zM16 219h1v1h-1zM80 219h1v1h-1zM688 219h1v1h-1zM765 219h1v2h-1zM14 220h2v1h-2zM81 220h1v1h-1zM687 220h1v1h-1zM13 221h1v1h-1zM82 221h2v1h-2zM686 221h1v1h-1zM766 221h1v1h-1zM12 222h1v1h-1zM84 222h1v1h-1zM685 222h1v1h-1zM767 222h1v1h-1zM11 223h1v1h-1zM85 223h1v1h-1zM683 223h2v1h-2zM768 223h1v2h-1zM10 224h1v1h-1zM86 224h1v1h-1zM681 224h2v1h-2zM9 225h1v1h-1zM87 225h1v1h-1zM678 225h3v1h-3zM769 225h1v1h-1zM8 226h1v1h-1zM88 226h1v2h-1zM676 226h2v1h-2zM770 226h1v1h-1zM7 227h1v1h-1zM674 227h2v1h-2zM771 227h1v2h-1zM6 228h1v1h-1zM89 228h1v1h-1zM672 228h2v1h-2zM5 229h1v1h-1zM90 229h1v1h-1zM670 229h2v1h-2zM772 229h1v1h-1zM4 230h1v1h-1zM91 230h1v1h-1zM669 230h1v1h-1zM773 230h1v1h-1zM92 231h1v1h-1zM667 231h2v1h-2zM774 231h1v2h-1zM93 232h1v1h-1zM665 232h2v1h-2zM94 233h1v2h-1zM664 233h1v1h-1zM775 233h1v1h-1zM663 234h1v1h-1zM776 234h1v1h-1zM95 235h1v1h-1zM662 235h1v1h-1zM777 235h1v2h-1zM96 236h1v1h-1zM660 236h2v1h-2zM97 237h1v1h-1zM659 237h1v1h-1zM778 237h1v1h-1zM98 238h1v2h-1zM658 238h1v1h-1zM779 238h1v1h-1zM657 239h1v1h-1zM780 239h1v2h-1zM99 240h1v1h-1zM655 240h2v1h-2zM100 241h1v1h-1zM653 241h2v1h-2zM781 241h1v1h-1zM101 242h1v1h-1zM652 242h1v1h-1zM782 242h1v1h-1zM102 243h1v1h-1zM651 243h1v1h-1zM783 243h1v2h-1zM103 244h1v1h-1zM650 244h1v1h-1zM104 245h1v2h-1zM649 245h1v1h-1zM784 245h1v1h-1zM647 246h2v1h-2zM785 246h1v1h-1zM105 247h1v1h-1zM646 247h1v1h-1zM786 247h1v2h-1zM106 248h1v1h-1zM645 248h1v1h-1zM107 249h1v1h-1zM644 249h1v1h-1zM787 249h1v1h-1zM108 250h1v1h-1zM643 250h1v1h-1zM788 250h1v1h-1zM109 251h1v2h-1zM642 251h1v2h-1zM789 251h1v1h-1zM790 252h1v1h-1zM110 253h1v1h-1zM641 253h1v1h-1zM791 253h1v1h-1zM111 254h1v1h-1zM640 254h1v2h-1zM792 254h1v2h-1zM112 255h1v2h-1zM639 256h1v1h-1zM793 256h1v1h-1zM113 257h1v1h-1zM638 257h1v1h-1zM794 257h1v1h-1zM114 258h1v1h-1zM637 258h1v2h-1zM795 258h1v1h-1zM115 259h1v2h-1zM796 259h1v1h-1zM636 260h1v1h-1zM797 260h1v1h-1zM116 261h1v1h-1zM635 261h1v2h-1zM798 261h1v1h-1zM117 262h1v2h-1zM799 262h1v1h-1zM633 263h2v1h-2zM800 263h2v1h-2zM118 264h1v2h-1zM619 264h6v1h-6zM630 264h3v1h-3zM802 264h1v1h-1zM615 265h4v1h-4zM625 265h5v1h-5zM803 265h1v1h-1zM119 266h1v2h-1zM227 266h10v1h-10zM613 266h2v1h-2zM804 266h1v1h-1zM224 267h3v1h-3zM237 267h1v1h-1zM611 267h2v1h-2zM805 267h1v1h-1zM120 268h1v2h-1zM222 268h2v1h-2zM238 268h2v1h-2zM609 268h2v1h-2zM806 268h1v2h-1zM216 269h6v1h-6zM240 269h1v1h-1zM607 269h2v1h-2zM121 270h1v2h-1zM208 270h8v1h-8zM241 270h1v1h-1zM605 270h2v1h-2zM807 270h1v2h-1zM204 271h4v1h-4zM242 271h2v1h-2zM604 271h1v1h-1zM122 272h1v2h-1zM203 272h1v1h-1zM244 272h1v1h-1zM603 272h1v1h-1zM808 272h1v1h-1zM202 273h1v1h-1zM245 273h1v1h-1zM601 273h2v1h-2zM809 273h1v2h-1zM123 274h1v2h-1zM200 274h2v1h-2zM246 274h1v1h-1zM600 274h1v1h-1zM199 275h1v1h-1zM247 275h1v1h-1zM599 275h1v1h-1zM810 275h1v2h-1zM124 276h1v1h-1zM198 276h1v1h-1zM248 276h1v2h-1zM598 276h1v1h-1zM125 277h1v2h-1zM197 277h1v1h-1zM596 277h2v1h-2zM811 277h1v2h-1zM196 278h1v1h-1zM249 278h1v1h-1zM595 278h1v1h-1zM126 279h1v2h-1zM194 279h2v1h-2zM250 279h1v1h-1zM594 279h1v1h-1zM812 279h1v1h-1zM192 280h2v1h-2zM251 280h1v1h-1zM593 280h1v1h-1zM813 280h2v1h-2zM127 281h1v2h-1zM191 281h1v1h-1zM252 281h1v1h-1zM592 281h1v1h-1zM815 281h1v1h-1zM189 282h2v1h-2zM253 282h1v2h-1zM591 282h1v1h-1zM816 282h2v1h-2zM128 283h1v2h-1zM188 283h1v1h-1zM590 283h1v1h-1zM818 283h2v1h-2zM187 284h1v1h-1zM254 284h1v1h-1zM588 284h2v1h-2zM820 284h2v1h-2zM129 285h1v2h-1zM186 285h1v1h-1zM255 285h1v1h-1zM587 285h1v1h-1zM822 285h2v1h-2zM185 286h1v1h-1zM256 286h1v2h-1zM586 286h1v1h-1zM824 286h3v1h-3zM130 287h1v2h-1zM184 287h1v1h-1zM585 287h1v1h-1zM827 287h2v1h-2zM183 288h1v1h-1zM257 288h1v1h-1zM584 288h1v1h-1zM829 288h1v1h-1zM131 289h1v2h-1zM182 289h1v1h-1zM258 289h1v1h-1zM583 289h1v1h-1zM830 289h1v1h-1zM181 290h1v1h-1zM259 290h1v2h-1zM582 290h1v1h-1zM831 290h1v1h-1zM132 291h2v1h-2zM180 291h1v1h-1zM581 291h1v1h-1zM832 291h2v1h-2zM134 292h2v1h-2zM179 292h1v1h-1zM260 292h1v1h-1zM580 292h1v2h-1zM834 292h1v1h-1zM136 293h3v1h-3zM178 293h1v1h-1zM261 293h1v1h-1zM835 293h1v1h-1zM139 294h2v1h-2zM176 294h2v1h-2zM262 294h1v2h-1zM579 294h1v1h-1zM836 294h1v1h-1zM141 295h2v1h-2zM175 295h1v1h-1zM578 295h1v1h-1zM837 295h1v1h-1zM143 296h2v1h-2zM174 296h1v1h-1zM263 296h1v1h-1zM577 296h1v1h-1zM838 296h2v1h-2zM145 297h2v1h-2zM173 297h1v1h-1zM264 297h1v1h-1zM576 297h1v1h-1zM840 297h1v1h-1zM147 298h3v1h-3zM171 298h2v1h-2zM265 298h1v1h-1zM575 298h1v2h-1zM841 298h1v1h-1zM150 299h2v1h-2zM168 299h3v1h-3zM266 299h1v2h-1zM842 299h2v1h-2zM152 300h3v1h-3zM166 300h2v1h-2zM574 300h1v1h-1zM844 300h4v1h-4zM155 301h11v1h-11zM267 301h1v1h-1zM573 301h1v1h-1zM848 301h5v1h-5zM268 302h1v1h-1zM572 302h1v1h-1zM853 302h1v1h-1zM269 303h1v1h-1zM571 303h1v1h-1zM854 303h2v1h-2zM270 304h2v1h-2zM570 304h1v1h-1zM856 304h1v1h-1zM272 305h1v1h-1zM569 305h1v2h-1zM857 305h1v1h-1zM273 306h1v1h-1zM858 306h2v1h-2zM274 307h2v1h-2zM568 307h1v1h-1zM860 307h1v1h-1zM276 308h1v1h-1zM567 308h1v1h-1zM861 308h1v1h-1zM277 309h1v1h-1zM566 309h1v1h-1zM862 309h2v1h-2zM278 310h1v1h-1zM565 310h1v1h-1zM864 310h1v1h-1zM279 311h1v1h-1zM564 311h1v2h-1zM865 311h1v1h-1zM280 312h1v1h-1zM866 312h2v1h-2zM281 313h1v1h-1zM563 313h1v1h-1zM868 313h1v1h-1zM282 314h1v1h-1zM562 314h1v1h-1zM869 314h2v1h-2zM283 315h1v1h-1zM561 315h1v1h-1zM871 315h1v1h-1zM284 316h1v1h-1zM560 316h1v1h-1zM872 316h2v1h-2zM285 317h1v1h-1zM559 317h1v2h-1zM874 317h2v1h-2zM286 318h1v1h-1zM876 318h1v1h-1zM287 319h1v1h-1zM558 319h1v1h-1zM877 319h1v2h-1zM288 320h1v1h-1zM557 320h1v1h-1zM289 321h1v1h-1zM556 321h1v2h-1zM878 321h1v1h-1zM290 322h1v1h-1zM879 322h1v1h-1zM291 323h1v1h-1zM555 323h1v1h-1zM880 323h1v2h-1zM292 324h1v1h-1zM554 324h1v1h-1zM293 325h1v1h-1zM553 325h1v2h-1zM881 325h1v1h-1zM294 326h1v2h-1zM882 326h1v1h-1zM552 327h1v1h-1zM883 327h1v2h-1zM295 328h1v1h-1zM551 328h1v1h-1zM296 329h1v1h-1zM550 329h1v2h-1zM884 329h1v1h-1zM297 330h1v1h-1zM885 330h1v1h-1zM298 331h1v2h-1zM549 331h1v2h-1zM886 331h1v2h-1zM299 333h1v1h-1zM548 333h1v1h-1zM887 333h1v1h-1zM300 334h1v1h-1zM547 334h1v2h-1zM888 334h1v1h-1zM301 335h1v1h-1zM385 335h5v1h-5zM889 335h1v2h-1zM302 336h1v1h-1zM380 336h5v1h-5zM390 336h2v1h-2zM546 336h1v2h-1zM303 337h1v1h-1zM378 337h2v1h-2zM392 337h2v1h-2zM890 337h1v1h-1zM304 338h1v1h-1zM377 338h1v1h-1zM394 338h2v1h-2zM545 338h1v2h-1zM891 338h1v1h-1zM305 339h1v1h-1zM376 339h1v1h-1zM396 339h2v1h-2zM892 339h1v2h-1zM306 340h1v1h-1zM374 340h2v1h-2zM398 340h2v1h-2zM544 340h1v1h-1zM307 341h1v1h-1zM373 341h1v1h-1zM400 341h2v1h-2zM543 341h1v2h-1zM893 341h1v1h-1zM308 342h1v2h-1zM372 342h1v1h-1zM402 342h2v1h-2zM894 342h1v1h-1zM370 343h2v1h-2zM404 343h6v1h-6zM542 343h1v2h-1zM895 343h1v2h-1zM309 344h1v1h-1zM369 344h1v1h-1zM410 344h8v1h-8zM310 345h1v1h-1zM368 345h1v1h-1zM418 345h4v1h-4zM541 345h1v1h-1zM896 345h1v1h-1zM311 346h1v1h-1zM367 346h1v1h-1zM422 346h4v1h-4zM540 346h1v2h-1zM897 346h1v1h-1zM312 347h1v1h-1zM366 347h1v1h-1zM426 347h4v1h-4zM898 347h1v1h-1zM313 348h1v1h-1zM365 348h1v1h-1zM430 348h2v1h-2zM539 348h1v1h-1zM899 348h1v2h-1zM314 349h1v1h-1zM364 349h1v1h-1zM432 349h2v1h-2zM538 349h1v1h-1zM315 350h1v1h-1zM363 350h1v2h-1zM434 350h2v1h-2zM537 350h1v2h-1zM900 350h1v1h-1zM316 351h1v1h-1zM436 351h4v1h-4zM901 351h1v1h-1zM317 352h2v1h-2zM362 352h1v1h-1zM440 352h5v1h-5zM536 352h1v1h-1zM902 352h1v1h-1zM319 353h2v1h-2zM361 353h1v1h-1zM445 353h5v1h-5zM535 353h1v2h-1zM903 353h1v2h-1zM321 354h2v1h-2zM360 354h1v1h-1zM450 354h5v1h-5zM323 355h2v1h-2zM359 355h1v1h-1zM455 355h6v1h-6zM534 355h1v1h-1zM904 355h1v1h-1zM325 356h2v1h-2zM358 356h1v1h-1zM461 356h6v1h-6zM533 356h1v1h-1zM905 356h1v1h-1zM327 357h3v1h-3zM357 357h1v1h-1zM467 357h3v1h-3zM532 357h1v2h-1zM906 357h1v2h-1zM330 358h2v1h-2zM355 358h2v1h-2zM470 358h2v1h-2zM332 359h2v1h-2zM354 359h1v1h-1zM472 359h2v1h-2zM531 359h1v1h-1zM907 359h1v1h-1zM334 360h2v1h-2zM352 360h2v1h-2zM474 360h2v1h-2zM529 360h2v1h-2zM908 360h1v1h-1zM336 361h2v1h-2zM351 361h1v1h-1zM476 361h1v1h-1zM528 361h1v1h-1zM909 361h1v2h-1zM338 362h2v1h-2zM349 362h2v1h-2zM477 362h1v1h-1zM527 362h1v1h-1zM340 363h9v1h-9zM478 363h1v1h-1zM525 363h2v1h-2zM910 363h1v2h-1zM479 364h1v1h-1zM524 364h1v1h-1zM480 365h2v1h-2zM523 365h1v1h-1zM911 365h1v2h-1zM482 366h1v1h-1zM521 366h2v1h-2zM483 367h1v1h-1zM520 367h1v2h-1zM912 367h1v1h-1zM484 368h1v1h-1zM913 368h1v2h-1zM485 369h1v1h-1zM519 369h1v2h-1zM486 370h1v1h-1zM914 370h1v2h-1zM487 371h1v1h-1zM518 371h1v2h-1zM488 372h2v1h-2zM915 372h1v2h-1zM490 373h1v1h-1zM517 373h1v1h-1zM491 374h1v1h-1zM515 374h2v1h-2zM916 374h1v1h-1zM492 375h4v1h-4zM513 375h2v1h-2zM917 375h1v2h-1zM496 376h6v1h-6zM511 376h2v1h-2zM502 377h4v1h-4zM509 377h2v1h-2zM918 377h1v1h-1zM506 378h3v1h-3zM919 378h1v2h-1zM920 380h1v1h-1zM921 381h1v2h-1zM922 383h1v1h-1zM923 384h1v2h-1zM1003 384h11v1h-11zM1035 384h3v1h-3zM1001 385h2v1h-2zM1014 385h2v1h-2zM1031 385h4v1h-4zM1038 385h2v1h-2zM924 386h1v1h-1zM999 386h2v1h-2zM1016 386h2v1h-2zM1027 386h4v1h-4zM1040 386h3v1h-3zM925 387h1v2h-1zM997 387h2v1h-2zM1018 387h2v1h-2zM1023 387h4v1h-4zM1043 387h5v1h-5zM996 388h1v1h-1zM1020 388h3v1h-3zM1048 388h5v1h-5zM926 389h1v1h-1zM995 389h1v1h-1zM1053 389h1v2h-1zM927 390h1v1h-1zM994 390h1v2h-1zM928 391h1v2h-1zM1054 391h1v1h-1zM993 392h1v1h-1zM1055 392h1v1h-1zM929 393h1v1h-1zM992 393h1v1h-1zM1056 393h1v2h-1zM930 394h1v1h-1zM991 394h1v1h-1zM931 395h1v2h-1zM989 395h2v1h-2zM1057 395h1v1h-1zM988 396h1v1h-1zM1058 396h1v1h-1zM932 397h1v1h-1zM987 397h1v1h-1zM1059 397h1v2h-1zM933 398h1v2h-1zM985 398h2v1h-2zM984 399h1v1h-1zM1060 399h1v1h-1zM934 400h1v2h-1zM983 400h1v1h-1zM1061 400h1v2h-1zM981 401h2v1h-2zM935 402h1v1h-1zM980 402h1v1h-1zM1062 402h1v1h-1zM936 403h1v2h-1zM978 403h2v1h-2zM1063 403h1v2h-1zM977 404h1v1h-1zM937 405h1v1h-1zM975 405h2v1h-2zM1064 405h1v1h-1zM938 406h1v2h-1zM973 406h2v1h-2zM1065 406h1v2h-1zM970 407h3v1h-3zM939 408h1v2h-1zM967 408h3v1h-3zM1066 408h1v1h-1zM944 409h9v1h-9zM961 409h6v1h-6zM1067 409h1v2h-1zM940 410h4v1h-4zM953 410h8v1h-8zM1068 411h1v1h-1zM1069 412h2v1h-2zM1071 413h2v1h-2zM1073 414h2v1h-2zM1075 415h2v1h-2zM1077 416h2v1h-2zM1079 417h2v1h-2zM1081 418h2v1h-2zM1083 419h2v1h-2zM1085 420h1v1h-1zM1086 421h1v1h-1zM1087 422h1v1h-1zM1088 423h1v2h-1zM1089 425h1v1h-1zM1090 426h1v1h-1zM1091 427h1v1h-1zM1092 428h1v1h-1zM1093 429h1v1h-1zM1094 430h1v2h-1zM1095 432h1v1h-1zM1096 433h1v1h-1zM1097 434h1v1h-1zM1098 435h1v2h-1zM1099 437h1v1h-1zM1100 438h1v1h-1zM1101 439h1v1h-1zM1102 440h1v2h-1zM1103 442h1v1h-1zM1104 443h1v1h-1zM1105 444h1v1h-1zM1106 445h1v2h-1zM1107 447h1v1h-1zM1108 448h1v1h-1zM1109 449h1v1h-1zM1110 450h1v1h-1zM1111 451h1v1h-1zM1112 452h1v2h-1zM1113 454h1v1h-1zM1114 455h1v1h-1zM1115 456h1v1h-1z" fill="#ff0000"/>
<path d="M694 133h3v1h-3zM693 134h1v1h-1zM697 134h4v1h-4zM692 135h1v1h-1zM701 135h1v2h-1zM690 136h2v1h-2zM689 137h1v1h-1zM702 137h1v2h-1zM688 138h1v1h-1zM687 139h1v2h-1zM703 139h1v2h-1zM686 141h1v3h-1zM704 141h1v1h-1zM705 142h1v2h-1zM685 144h1v2h-1zM706 144h1v2h-1zM684 146h1v3h-1zM707 146h1v2h-1zM708 148h1v2h-1zM683 149h1v3h-1zM709 150h1v2h-1zM682 152h1v2h-1zM710 152h1v3h-1zM681 154h1v3h-1zM711 155h1v2h-1zM680 157h1v3h-1zM712 157h1v3h-1zM679 160h1v3h-1zM713 160h1v2h-1zM714 162h1v3h-1zM678 163h1v4h-1zM715 165h1v2h-1zM677 167h1v3h-1zM716 167h1v2h-1zM20 168h4v1h-4zM18 169h2v1h-2zM24 169h5v1h-5zM717 169h1v2h-1zM17 170h1v1h-1zM29 170h2v1h-2zM676 170h1v3h-1zM16 171h1v1h-1zM31 171h2v1h-2zM718 171h1v2h-1zM14 172h2v1h-2zM33 172h2v1h-2zM13 173h1v1h-1zM35 173h5v1h-5zM675 173h1v3h-1zM719 173h1v1h-1zM12 174h1v2h-1zM40 174h5v1h-5zM720 174h1v2h-1zM45 175h1v1h-1zM11 176h1v3h-1zM46 176h1v2h-1zM674 176h1v4h-1zM721 176h1v2h-1zM47 178h1v1h-1zM722 178h1v1h-1zM10 179h1v3h-1zM48 179h1v1h-1zM723 179h1v2h-1zM49 180h1v1h-1zM673 180h1v3h-1zM50 181h1v2h-1zM724 181h1v2h-1zM9 182h1v3h-1zM51 183h1v1h-1zM672 183h1v3h-1zM725 183h1v1h-1zM52 184h1v1h-1zM726 184h1v2h-1zM8 185h1v3h-1zM53 185h1v2h-1zM671 186h1v4h-1zM727 186h1v2h-1zM54 187h1v2h-1zM7 188h1v3h-1zM728 188h1v2h-1zM55 189h1v2h-1zM670 190h1v4h-1zM729 190h1v2h-1zM6 191h1v3h-1zM56 191h1v2h-1zM730 192h1v2h-1zM57 193h1v2h-1zM5 194h1v3h-1zM669 194h1v4h-1zM731 194h1v2h-1zM58 195h1v2h-1zM732 196h1v2h-1zM4 197h1v2h-1zM59 197h1v2h-1zM668 198h1v4h-1zM733 198h1v2h-1zM60 199h1v4h-1zM734 200h1v2h-1zM667 202h1v4h-1zM735 202h1v4h-1zM61 203h1v5h-1zM666 206h1v4h-1zM736 206h1v3h-1zM62 208h1v5h-1zM737 209h1v4h-1zM665 210h1v4h-1zM63 213h1v5h-1zM738 213h1v3h-1zM664 214h1v3h-1zM588 215h1v1h-1zM587 216h1v1h-1zM589 216h1v2h-1zM739 216h1v4h-1zM586 217h1v1h-1zM663 217h1v3h-1zM64 218h1v4h-1zM585 218h1v2h-1zM590 218h1v1h-1zM591 219h1v2h-1zM584 220h1v1h-1zM662 220h1v3h-1zM740 220h1v3h-1zM583 221h1v1h-1zM592 221h1v1h-1zM65 222h1v5h-1zM582 222h1v1h-1zM593 222h1v2h-1zM581 223h1v1h-1zM661 223h1v3h-1zM741 223h1v3h-1zM579 224h2v1h-2zM594 224h1v1h-1zM578 225h1v1h-1zM595 225h1v2h-1zM577 226h1v1h-1zM660 226h1v4h-1zM742 226h1v4h-1zM66 227h1v5h-1zM575 227h2v1h-2zM596 227h1v2h-1zM574 228h1v1h-1zM573 229h1v2h-1zM597 229h1v3h-1zM659 230h1v3h-1zM743 230h1v3h-1zM572 231h1v2h-1zM67 232h1v5h-1zM598 232h1v3h-1zM571 233h1v2h-1zM658 233h1v3h-1zM744 233h1v3h-1zM570 235h1v3h-1zM599 235h1v2h-1zM657 236h1v3h-1zM745 236h1v4h-1zM68 237h1v4h-1zM600 237h1v3h-1zM569 238h1v2h-1zM204 239h1v1h-1zM656 239h1v4h-1zM202 240h2v1h-2zM205 240h1v1h-1zM568 240h1v2h-1zM601 240h1v3h-1zM746 240h1v3h-1zM69 241h1v3h-1zM200 241h2v1h-2zM206 241h1v1h-1zM199 242h1v1h-1zM207 242h1v1h-1zM567 242h1v2h-1zM197 243h2v1h-2zM208 243h2v1h-2zM602 243h1v2h-1zM655 243h1v5h-1zM747 243h1v3h-1zM70 244h1v3h-1zM196 244h1v1h-1zM210 244h1v1h-1zM566 244h1v3h-1zM194 245h2v1h-2zM211 245h1v1h-1zM603 245h1v2h-1zM192 246h2v1h-2zM212 246h2v1h-2zM748 246h1v3h-1zM71 247h1v3h-1zM191 247h1v1h-1zM214 247h2v1h-2zM565 247h1v2h-1zM604 247h1v2h-1zM189 248h2v1h-2zM216 248h3v1h-3zM654 248h1v4h-1zM188 249h1v1h-1zM219 249h2v1h-2zM564 249h1v2h-1zM605 249h1v2h-1zM749 249h1v2h-1zM72 250h1v2h-1zM187 250h1v2h-1zM221 250h1v1h-1zM222 251h1v1h-1zM563 251h1v3h-1zM606 251h1v3h-1zM750 251h1v3h-1zM73 252h1v3h-1zM186 252h1v1h-1zM223 252h1v1h-1zM653 252h1v5h-1zM185 253h1v2h-1zM224 253h2v1h-2zM226 254h1v1h-1zM562 254h1v2h-1zM607 254h1v2h-1zM751 254h1v3h-1zM74 255h1v3h-1zM184 255h1v1h-1zM227 255h1v1h-1zM183 256h1v2h-1zM228 256h1v1h-1zM561 256h1v2h-1zM608 256h1v2h-1zM229 257h1v2h-1zM652 257h1v4h-1zM752 257h1v3h-1zM75 258h1v3h-1zM182 258h1v1h-1zM560 258h1v2h-1zM609 258h1v2h-1zM181 259h1v2h-1zM230 259h1v1h-1zM231 260h1v2h-1zM559 260h1v3h-1zM610 260h1v2h-1zM753 260h1v3h-1zM76 261h1v2h-1zM180 261h1v2h-1zM651 261h1v3h-1zM232 262h1v1h-1zM611 262h1v2h-1zM77 263h1v2h-1zM179 263h1v2h-1zM233 263h1v2h-1zM558 263h1v3h-1zM754 263h1v2h-1zM612 264h1v2h-1zM650 264h1v3h-1zM78 265h1v1h-1zM178 265h1v2h-1zM234 265h1v1h-1zM755 265h1v3h-1zM79 266h1v2h-1zM235 266h1v2h-1zM557 266h1v3h-1zM613 266h1v2h-1zM177 267h1v2h-1zM649 267h1v4h-1zM80 268h1v1h-1zM236 268h1v2h-1zM614 268h1v2h-1zM756 268h1v3h-1zM81 269h1v2h-1zM176 269h1v2h-1zM556 269h1v3h-1zM237 270h1v3h-1zM615 270h1v2h-1zM82 271h1v1h-1zM175 271h1v2h-1zM648 271h1v3h-1zM757 271h1v3h-1zM83 272h1v2h-1zM555 272h1v3h-1zM616 272h1v2h-1zM174 273h1v2h-1zM238 273h1v3h-1zM84 274h1v1h-1zM617 274h1v3h-1zM647 274h1v3h-1zM758 274h1v2h-1zM85 275h1v2h-1zM173 275h1v2h-1zM554 275h1v3h-1zM239 276h1v3h-1zM759 276h1v2h-1zM86 277h1v2h-1zM172 277h1v1h-1zM618 277h1v2h-1zM646 277h1v3h-1zM171 278h1v2h-1zM553 278h1v3h-1zM760 278h1v2h-1zM87 279h1v2h-1zM240 279h1v4h-1zM619 279h1v2h-1zM170 280h1v2h-1zM645 280h1v3h-1zM761 280h1v1h-1zM88 281h1v2h-1zM552 281h1v3h-1zM620 281h1v3h-1zM762 281h1v2h-1zM169 282h1v1h-1zM89 283h1v2h-1zM168 283h1v2h-1zM241 283h1v5h-1zM644 283h1v2h-1zM763 283h1v2h-1zM824 283h5v1h-5zM551 284h1v3h-1zM621 284h1v2h-1zM819 284h5v1h-5zM829 284h2v1h-2zM90 285h1v2h-1zM167 285h1v1h-1zM643 285h1v2h-1zM764 285h1v2h-1zM816 285h3v1h-3zM831 285h1v1h-1zM166 286h1v2h-1zM622 286h1v2h-1zM814 286h2v1h-2zM832 286h2v1h-2zM91 287h1v2h-1zM550 287h1v3h-1zM642 287h1v2h-1zM765 287h1v1h-1zM804 287h10v1h-10zM834 287h2v1h-2zM165 288h1v2h-1zM242 288h1v4h-1zM623 288h1v3h-1zM766 288h1v1h-1zM802 288h2v1h-2zM836 288h1v1h-1zM92 289h1v3h-1zM641 289h1v3h-1zM767 289h2v1h-2zM800 289h2v1h-2zM837 289h1v2h-1zM163 290h2v1h-2zM549 290h1v4h-1zM769 290h1v1h-1zM798 290h2v1h-2zM160 291h3v1h-3zM624 291h1v2h-1zM770 291h1v1h-1zM796 291h2v1h-2zM838 291h1v1h-1zM93 292h1v2h-1zM158 292h2v1h-2zM243 292h1v5h-1zM640 292h1v2h-1zM771 292h1v1h-1zM795 292h1v2h-1zM839 292h1v1h-1zM156 293h2v1h-2zM625 293h1v3h-1zM772 293h1v1h-1zM840 293h1v2h-1zM94 294h1v2h-1zM155 294h1v1h-1zM548 294h1v4h-1zM639 294h1v2h-1zM773 294h2v1h-2zM794 294h1v1h-1zM154 295h1v2h-1zM775 295h1v1h-1zM793 295h1v1h-1zM841 295h1v1h-1zM95 296h1v2h-1zM626 296h1v2h-1zM638 296h1v2h-1zM776 296h1v1h-1zM792 296h1v2h-1zM842 296h1v1h-1zM153 297h1v1h-1zM244 297h1v4h-1zM777 297h2v1h-2zM843 297h1v2h-1zM96 298h1v3h-1zM152 298h1v1h-1zM547 298h1v4h-1zM627 298h1v2h-1zM637 298h1v2h-1zM779 298h2v1h-2zM791 298h1v1h-1zM151 299h1v1h-1zM781 299h2v1h-2zM790 299h1v1h-1zM844 299h1v1h-1zM150 300h1v2h-1zM628 300h1v1h-1zM636 300h1v1h-1zM783 300h2v1h-2zM789 300h1v2h-1zM845 300h1v1h-1zM97 301h1v2h-1zM245 301h1v2h-1zM628 301h9v1h-9zM785 301h2v1h-2zM846 301h1v1h-1zM149 302h1v1h-1zM546 302h1v4h-1zM787 302h2v1h-2zM847 302h1v1h-1zM98 303h1v2h-1zM148 303h1v1h-1zM246 303h1v3h-1zM848 303h1v2h-1zM147 304h1v2h-1zM99 305h1v2h-1zM849 305h1v1h-1zM146 306h1v1h-1zM247 306h1v3h-1zM545 306h1v4h-1zM850 306h1v1h-1zM100 307h1v2h-1zM145 307h1v1h-1zM851 307h1v1h-1zM144 308h1v2h-1zM852 308h1v2h-1zM101 309h2v1h-2zM248 309h1v2h-1zM103 310h1v1h-1zM143 310h1v1h-1zM544 310h1v4h-1zM853 310h1v2h-1zM104 311h2v1h-2zM142 311h1v1h-1zM249 311h1v3h-1zM106 312h2v1h-2zM141 312h1v2h-1zM854 312h1v2h-1zM108 313h1v1h-1zM109 314h2v1h-2zM140 314h1v1h-1zM250 314h1v3h-1zM543 314h1v4h-1zM855 314h1v2h-1zM111 315h1v1h-1zM138 315h2v1h-2zM112 316h2v1h-2zM137 316h1v1h-1zM856 316h1v2h-1zM114 317h2v1h-2zM136 317h1v1h-1zM251 317h1v4h-1zM116 318h2v1h-2zM134 318h2v1h-2zM542 318h1v4h-1zM857 318h1v3h-1zM118 319h4v1h-4zM133 319h1v1h-1zM122 320h11v1h-11zM252 321h1v4h-1zM858 321h1v2h-1zM387 322h4v1h-4zM541 322h1v4h-1zM383 323h4v1h-4zM391 323h2v1h-2zM859 323h1v2h-1zM378 324h5v1h-5zM393 324h2v1h-2zM253 325h1v2h-1zM374 325h4v1h-4zM395 325h2v1h-2zM860 325h1v2h-1zM372 326h2v1h-2zM397 326h1v1h-1zM540 326h1v4h-1zM254 327h1v2h-1zM371 327h1v1h-1zM398 327h1v2h-1zM861 327h1v2h-1zM370 328h1v1h-1zM255 329h1v3h-1zM368 329h2v1h-2zM399 329h1v1h-1zM862 329h1v2h-1zM367 330h1v1h-1zM400 330h1v1h-1zM539 330h1v3h-1zM366 331h1v1h-1zM401 331h1v1h-1zM863 331h1v1h-1zM256 332h1v2h-1zM365 332h1v1h-1zM402 332h1v2h-1zM864 332h1v2h-1zM996 332h1v1h-1zM364 333h1v1h-1zM538 333h1v3h-1zM996 333h2v1h-2zM257 334h1v2h-1zM363 334h1v1h-1zM403 334h1v1h-1zM865 334h1v1h-1zM995 334h1v2h-1zM997 334h1v1h-1zM362 335h1v1h-1zM404 335h1v1h-1zM866 335h1v2h-1zM998 335h1v1h-1zM258 336h1v3h-1zM360 336h2v1h-2zM405 336h1v2h-1zM537 336h1v3h-1zM994 336h1v3h-1zM999 336h1v1h-1zM359 337h1v1h-1zM867 337h1v2h-1zM1000 337h1v2h-1zM358 338h1v1h-1zM406 338h1v1h-1zM259 339h1v2h-1zM357 339h1v1h-1zM407 339h1v2h-1zM536 339h1v4h-1zM868 339h1v1h-1zM993 339h1v2h-1zM1001 339h1v1h-1zM356 340h1v2h-1zM869 340h1v2h-1zM1002 340h1v1h-1zM260 341h1v2h-1zM408 341h1v1h-1zM992 341h1v3h-1zM1003 341h1v2h-1zM355 342h1v1h-1zM409 342h1v1h-1zM870 342h1v1h-1zM261 343h1v2h-1zM354 343h1v1h-1zM410 343h1v2h-1zM535 343h1v3h-1zM871 343h1v2h-1zM1004 343h1v1h-1zM353 344h1v2h-1zM991 344h1v2h-1zM1005 344h1v1h-1zM262 345h1v2h-1zM411 345h1v1h-1zM872 345h1v2h-1zM1006 345h1v2h-1zM352 346h1v1h-1zM412 346h1v2h-1zM534 346h1v3h-1zM990 346h1v2h-1zM263 347h1v1h-1zM351 347h1v1h-1zM873 347h1v2h-1zM1007 347h1v1h-1zM264 348h1v1h-1zM350 348h1v2h-1zM413 348h1v1h-1zM989 348h1v3h-1zM1008 348h1v1h-1zM265 349h1v2h-1zM330 349h3v1h-3zM414 349h1v2h-1zM533 349h1v3h-1zM874 349h1v2h-1zM1009 349h1v1h-1zM326 350h4v1h-4zM333 350h3v1h-3zM349 350h1v1h-1zM1010 350h1v2h-1zM266 351h1v1h-1zM324 351h2v1h-2zM336 351h4v1h-4zM345 351h4v1h-4zM415 351h1v1h-1zM875 351h1v2h-1zM988 351h1v2h-1zM267 352h1v1h-1zM323 352h1v1h-1zM340 352h5v1h-5zM416 352h1v2h-1zM532 352h1v3h-1zM1011 352h1v1h-1zM268 353h1v2h-1zM322 353h1v1h-1zM876 353h1v2h-1zM987 353h1v3h-1zM1012 353h1v1h-1zM321 354h1v1h-1zM417 354h1v1h-1zM1013 354h1v2h-1zM269 355h1v1h-1zM320 355h1v2h-1zM418 355h1v1h-1zM531 355h1v2h-1zM877 355h1v2h-1zM270 356h1v2h-1zM419 356h1v2h-1zM986 356h1v2h-1zM1014 356h1v2h-1zM319 357h1v1h-1zM530 357h1v1h-1zM878 357h1v3h-1zM271 358h1v1h-1zM318 358h1v1h-1zM420 358h1v1h-1zM529 358h1v1h-1zM985 358h1v3h-1zM1015 358h1v2h-1zM272 359h1v1h-1zM317 359h1v1h-1zM421 359h1v1h-1zM528 359h1v1h-1zM273 360h1v2h-1zM316 360h1v1h-1zM422 360h1v2h-1zM527 360h1v2h-1zM879 360h1v3h-1zM1016 360h1v1h-1zM314 361h2v1h-2zM984 361h1v2h-1zM1017 361h1v2h-1zM274 362h1v1h-1zM312 362h2v1h-2zM423 362h1v1h-1zM526 362h1v1h-1zM275 363h1v1h-1zM310 363h2v1h-2zM424 363h1v2h-1zM525 363h1v1h-1zM880 363h1v2h-1zM983 363h1v2h-1zM1018 363h1v2h-1zM276 364h1v1h-1zM309 364h1v1h-1zM468 364h9v1h-9zM524 364h1v1h-1zM277 365h1v1h-1zM308 365h1v1h-1zM425 365h1v1h-1zM466 365h2v1h-2zM477 365h2v1h-2zM523 365h1v1h-1zM881 365h1v3h-1zM982 365h1v3h-1zM1019 365h1v2h-1zM278 366h1v1h-1zM307 366h1v2h-1zM426 366h1v1h-1zM464 366h2v1h-2zM479 366h2v1h-2zM522 366h1v1h-1zM279 367h1v2h-1zM427 367h1v2h-1zM462 367h2v1h-2zM481 367h2v1h-2zM521 367h1v1h-1zM1020 367h1v2h-1zM306 368h1v1h-1zM461 368h1v1h-1zM483 368h2v1h-2zM520 368h1v2h-1zM882 368h1v3h-1zM981 368h1v2h-1zM280 369h1v1h-1zM305 369h1v1h-1zM428 369h1v1h-1zM460 369h1v1h-1zM485 369h2v1h-2zM1021 369h1v2h-1zM281 370h1v1h-1zM304 370h1v1h-1zM429 370h1v1h-1zM459 370h1v1h-1zM487 370h2v1h-2zM519 370h1v1h-1zM980 370h1v2h-1zM282 371h1v1h-1zM303 371h1v2h-1zM430 371h1v1h-1zM458 371h1v1h-1zM489 371h2v1h-2zM518 371h1v1h-1zM883 371h1v3h-1zM1022 371h1v2h-1zM283 372h1v1h-1zM431 372h1v1h-1zM456 372h2v1h-2zM491 372h3v1h-3zM517 372h1v1h-1zM979 372h1v2h-1zM284 373h1v1h-1zM302 373h1v1h-1zM432 373h1v1h-1zM455 373h1v1h-1zM494 373h4v1h-4zM516 373h1v1h-1zM1023 373h1v2h-1zM285 374h2v1h-2zM300 374h2v1h-2zM433 374h1v1h-1zM454 374h1v1h-1zM498 374h3v1h-3zM515 374h1v1h-1zM884 374h1v2h-1zM978 374h1v3h-1zM287 375h2v1h-2zM297 375h3v1h-3zM434 375h1v1h-1zM453 375h1v1h-1zM501 375h1v1h-1zM514 375h1v1h-1zM1024 375h1v3h-1zM289 376h2v1h-2zM294 376h3v1h-3zM435 376h1v1h-1zM452 376h1v1h-1zM502 376h2v1h-2zM512 376h2v1h-2zM885 376h1v2h-1zM291 377h3v1h-3zM436 377h1v1h-1zM450 377h2v1h-2zM504 377h1v1h-1zM511 377h1v1h-1zM977 377h1v2h-1zM437 378h1v1h-1zM449 378h1v1h-1zM505 378h1v1h-1zM510 378h1v1h-1zM886 378h1v2h-1zM1025 378h1v2h-1zM438 379h2v1h-2zM448 379h1v1h-1zM506 379h2v1h-2zM509 379h1v1h-1zM976 379h1v2h-1zM440 380h2v1h-2zM446 380h2v1h-2zM508 380h1v1h-1zM887 380h1v2h-1zM1026 380h1v3h-1zM442 381h2v1h-2zM445 381h1v1h-1zM975 381h1v3h-1zM444 382h1v1h-1zM888 382h1v2h-1zM1027 383h1v2h-1zM889 384h1v2h-1zM974 384h1v2h-1zM1028 385h1v2h-1zM890 386h1v2h-1zM973 386h1v3h-1zM1029 387h1v2h-1zM891 388h1v1h-1zM892 389h1v2h-1zM972 389h1v2h-1zM1030 389h1v2h-1zM893 391h1v1h-1zM971 391h1v2h-1zM1031 391h1v2h-1zM894 392h1v2h-1zM970 393h1v3h-1zM1032 393h1v2h-1zM895 394h1v1h-1zM896 395h1v2h-1zM1033 395h1v2h-1zM969 396h1v2h-1zM897 397h1v1h-1zM1034 397h1v2h-1zM898 398h1v2h-1zM968 398h1v3h-1zM1035 399h1v2h-1zM899 400h1v1h-1zM900 401h1v1h-1zM967 401h1v2h-1zM1036 401h1v2h-1zM901 402h1v2h-1zM966 403h1v2h-1zM1037 403h1v2h-1zM902 404h1v1h-1zM903 405h1v1h-1zM965 405h1v2h-1zM1038 405h1v2h-1zM904 406h1v2h-1zM964 407h1v1h-1zM1039 407h1v3h-1zM905 408h1v1h-1zM963 408h1v2h-1zM906 409h1v1h-1zM907 410h1v2h-1zM962 410h1v1h-1zM1040 410h1v3h-1zM961 411h1v1h-1zM908 412h1v1h-1zM960 412h1v1h-1zM909 413h1v2h-1zM959 413h1v2h-1zM1041 413h1v2h-1zM910 415h1v1h-1zM958 415h1v1h-1zM1042 415h1v3h-1zM911 416h1v2h-1zM957 416h1v1h-1zM956 417h1v1h-1zM912 418h1v1h-1zM955 418h1v1h-1zM1043 418h1v3h-1zM913 419h1v2h-1zM954 419h1v1h-1zM953 420h1v2h-1zM914 421h1v1h-1zM1044 421h1v2h-1zM915 422h1v2h-1zM952 422h1v1h-1zM951 423h1v1h-1zM1045 423h1v3h-1zM916 424h1v1h-1zM950 424h1v1h-1zM917 425h1v2h-1zM949 425h1v1h-1zM948 426h1v2h-1zM1046 426h1v2h-1zM918 427h1v1h-1zM919 428h1v1h-1zM947 428h1v2h-1zM1047 428h1v2h-1zM920 429h1v2h-1zM946 430h1v2h-1zM1048 430h1v2h-1zM921 431h1v1h-1zM922 432h1v1h-1zM945 432h1v2h-1zM1049 432h1v3h-1zM923 433h1v2h-1zM944 434h1v3h-1zM924 435h1v1h-1zM1050 435h1v2h-1zM925 436h2v1h-2zM927 437h1v1h-1zM943 437h1v2h-1zM1051 437h1v2h-1zM928 438h2v1h-2zM930 439h2v1h-2zM942 439h1v2h-1zM1052 439h1v3h-1zM932 440h1v1h-1zM933 441h2v1h-2zM941 441h1v2h-1zM935 442h2v1h-2zM1053 442h1v2h-1zM937 443h2v1h-2zM940 443h1v1h-1zM939 444h2v1h-2zM1054 444h1v2h-1zM1055 446h1v2h-1zM1056 448h1v3h-1zM1057 451h1v2h-1zM1098 452h4v1h-4zM1058 453h1v2h-1zM1094 453h4v1h-4zM1102 453h4v1h-4zM1090 454h4v1h-4zM1106 454h4v1h-4zM1059 455h1v2h-1zM1086 455h4v1h-4zM1110 455h4v1h-4zM1084 456h2v1h-2zM1114 456h2v1h-2zM1060 457h1v2h-1zM1082 457h2v1h-2zM1081 458h1v1h-1zM1061 459h1v2h-1zM1080 459h1v1h-1zM1078 460h2v1h-2zM1062 461h1v1h-1zM1077 461h1v1h-1zM1063 462h1v1h-1zM1076 462h1v1h-1zM1064 463h1v2h-1zM1075 463h1v1h-1zM1074 464h1v1h-1zM1065 465h1v1h-1zM1072 465h2v1h-2zM1066 466h1v1h-1zM1071 466h1v1h-1zM1067 467h1v2h-1zM1070 467h1v1h-1zM1069 468h1v1h-1zM1068 469h1v1h-1z" fill="#0000d0"/>
</g>
<g shape-rendering="crispEdges">
<rect x="3" y="103" width="1418" height="3" fill="#ff0000"/>
<rect x="3" y="240" width="1418" height="3" fill="#ff0000"/>
<rect x="3" y="352" width="1418" height="3" fill="#ff0000"/>
<rect x="3" y="459" width="1418" height="3" fill="#00ff00"/>
<rect x="3" y="554" width="1418" height="3" fill="#0000ff"/>
</g>
<g shape-rendering="crispEdges">
<rect x="4" y="613" width="1" height="7" fill="#c0c0c0"/>
<rect x="12" y="611" width="1" height="3" fill="#c0c0c0"/>
<rect x="20" y="607" width="1" height="7" fill="#c0c0c0"/>
<rect x="28" y="611" width="1" height="3" fill="#c0c0c0"/>
<rect x="36" y="612" width="1" height="2" fill="#c0c0c0"/>
<rect x="44" y="613" width="1" height="2" fill="#c0c0c0"/>
<rect x="52" y="613" width="1" height="5" fill="#c0c0c0"/>
<rect x="60" y="613" width="1" height="12" fill="#c0c0c0"/>
<rect x="68" y="613" width="1" height="17" fill="#c0c0c0"/>
<rect x="76" y="613" width="1" height="23" fill="#c0c0c0"/>
<rect x="84" y="613" width="1" height="28" fill="#c0c0c0"/>
<rect x="92" y="613" width="1" height="31" fill="#c0c0c0"/>
<rect x="100" y="613" width="1" height="34" fill="#c0c0c0"/>
<rect x="108" y="613" width="1" height="32" fill="#c0c0c0"/>
<rect x="116" y="613" width="1" height="32" fill="#c0c0c0"/>
<rect x="124" y="613" width="1" height="32" fill="#c0c0c0"/>
<rect x="132" y="613" width="1" height="32" fill="#c0c0c0"/>
<rect x="140" y="613" width="1" height="29" fill="#c0c0c0"/>
<rect x="148" y="613" width="1" height="25" fill="#c0c0c0"/>
<rect x="156" y="613" width="1" height="21" fill="#c0c0c0"/>
<rect x="164" y="613" width="1" height="18" fill="#c0c0c0"/>
<rect x="172" y="613" width="1" height="14" fill="#c0c0c0"/>
<rect x="180" y="613" width="1" height="9" fill="#c0c0c0"/>
<rect x="188" y="613" width="1" height="5" fill="#c0c0c0"/>
<rect x="196" y="613" width="1" height="4" fill="#c0c0c0"/>
<rect x="212" y="613" width="1" height="5" fill="#c0c0c0"/>
<rect x="220" y="613" width="1" height="7" fill="#c0c0c0"/>
<rect x="228" y="613" width="1" height="7" fill="#c0c0c0"/>
<rect x="236" y="613" width="1" height="11" fill="#c0c0c0"/>
<rect x="244" y="613" width="1" height="18" fill="#c0c0c0"/>
<rect x="252" y="613" width="1" height="27" fill="#c0c0c0"/>
<rect x="260" y="613" width="1" height="30" fill="#c0c0c0"/>
<rect x="268" y="613" width="1" height="34" fill="#c0c0c0"/>
<rect x="276" y="613" width="1" height="33" fill="#c0c0c0"/>
<rect x="284" y="613" width="1" height="30" fill="#c0c0c0"/>
<rect x="292" y="613" width="1" height="28" fill="#c0c0c0"/>
<rect x="300" y="613" width="1" height="27" fill="#c0c0c0"/>
<rect x="308" y="613" width="1" height="27" fill="#c0c0c0"/>
<rect x="316" y="613" width="1" height="26" fill="#c0c0c0"/>
<rect x="324" y="613" width="1" height="23" fill="#c0c0c0"/>
<rect x="332" y="613" width="1" height="22" fill="#c0c0c0"/>
<rect x="340" y="613" width="1" height="21" fill="#c0c0c0"/>
<rect x="348" y="613" width="1" height="17" fill="#c0c0c0"/>
<rect x="356" y="613" width="1" height="13" fill="#c0c0c0"/>
<rect x="364" y="613" width="1" height="10" fill="#c0c0c0"/>
<rect x="372" y="613" width="1" height="8" fill="#c0c0c0"/>
<rect x="380" y="613" width="1" height="8" fill="#c0c0c0"/>
<rect x="388" y="613" width="1" height="8" fill="#c0c0c0"/>
<rect x="396" y="613" width="1" height="11" fill="#c0c0c0"/>
<rect x="404" y="613" width="1" height="13" fill="#c0c0c0"/>
<rect x="412" y="613" width="1" height="15" fill="#c0c0c0"/>
<rect x="420" y="613" width="1" height="16" fill="#c0c0c0"/>
<rect x="428" y="613" width="1" height="17" fill="#c0c0c0"/>
<rect x="436" y="613" width="1" height="18" fill="#c0c0c0"/>
<rect x="444" y="613" width="1" height="17" fill="#c0c0c0"/>
<rect x="452" y="613" width="1" height="13" fill="#c0c0c0"/>
<rect x="460" y="613" width="1" height="11" fill="#c0c0c0"/>
<rect x="468" y="613" width="1" height="10" fill="#c0c0c0"/>
<rect x="476" y="613" width="1" height="11" fill="#c0c0c0"/>
<rect x="484" y="613" width="1" height="15" fill="#c0c0c0"/>
<rect x="492" y="613" width="1" height="17" fill="#c0c0c0"/>
<rect x="500" y="613" width="1" height="16" fill="#c0c0c0"/>
<rect x="508" y="613" width="1" height="13" fill="#c0c0c0"/>
<rect x="516" y="613" width="1" height="8" fill="#c0c0c0"/>
<rect x="532" y="611" width="1" height="3" fill="#c0c0c0"/>
<rect x="540" y="605" width="1" height="9" fill="#c0c0c0"/>
<rect x="548" y="595" width="1" height="19" fill="#c0c0c0"/>
<rect x="556" y="588" width="1" height="26" fill="#c0c0c0"/>
<rect x="564" y="584" width="1" height="30" fill="#c0c0c0"/>
<rect x="572" y="580" width="1" height="34" fill="#c0c0c0"/>
<rect x="580" y="580" width="1" height="34" fill="#c0c0c0"/>
<rect x="588" y="582" width="1" height="32" fill="#c0c0c0"/>
<rect x="596" y="589" width="1" height="25" fill="#c0c0c0"/>
<rect x="604" y="596" width="1" height="18" fill="#c0c0c0"/>
<rect x="612" y="600" width="1" height="14" fill="#c0c0c0"/>
<rect x="620" y="606" width="1" height="8" fill="#c0c0c0"/>
<rect x="628" y="607" width="1" height="7" fill="#c0c0c0"/>
<rect x="636" y="603" width="1" height="11" fill="#c0c0c0"/>
<rect x="644" y="593" width="1" height="21" fill="#c0c0c0"/>
<rect x="652" y="585" width="1" height="29" fill="#c0c0c0"/>
<rect x="660" y="577" width="1" height="37" fill="#c0c0c0"/>
<rect x="668" y="574" width="1" height="40" fill="#c0c0c0"/>
<rect x="676" y="572" width="1" height="42" fill="#c0c0c0"/>
<rect x="684" y="571" width="1" height="43" fill="#c0c0c0"/>
<rect x="692" y="570" width="1" height="44" fill="#c0c0c0"/>
<rect x="700" y="571" width="1" height="43" fill="#c0c0c0"/>
<rect x="708" y="579" width="1" height="35" fill="#c0c0c0"/>
<rect x="716" y="585" width="1" height="29" fill="#c0c0c0"/>
<rect x="724" y="591" width="1" height="23" fill="#c0c0c0"/>
<rect x="732" y="596" width="1" height="18" fill="#c0c0c0"/>
<rect x="740" y="605" width="1" height="9" fill="#c0c0c0"/>
<rect x="748" y="611" width="1" height="3" fill="#c0c0c0"/>
<rect x="756" y="613" width="1" height="5" fill="#c0c0c0"/>
<rect x="764" y="613" width="1" height="12" fill="#c0c0c0"/>
<rect x="772" y="613" width="1" height="12" fill="#c0c0c0"/>
<rect x="780" y="613" width="1" height="12" fill="#c0c0c0"/>
<rect x="788" y="613" width="1" height="11" fill="#c0c0c0"/>
<rect x="796" y="613" width="1" height="9" fill="#c0c0c0"/>
<rect x="804" y="613" width="1" height="8" fill="#c0c0c0"/>
<rect x="812" y="613" width="1" height="13" fill="#c0c0c0"/>
<rect x="820" y="613" width="1" height="15" fill="#c0c0c0"/>
<rect x="828" y="613" width="1" height="13" fill="#c0c0c0"/>
<rect x="836" y="613" width="1" height="15" fill="#c0c0c0"/>
<rect x="844" y="613" width="1" height="17" fill="#c0c0c0"/>
<rect x="852" y="613" width="1" height="19" fill="#c0c0c0"/>
<rect x="860" y="613" width="1" height="25" fill="#c0c0c0"/>
<rect x="868" y="613" width="1" height="31" fill="#c0c0c0"/>
<rect x="876" y="613" width="1" height="34" fill="#c0c0c0"/>
<rect x="884" y="613" width="1" height="38" fill="#c0c0c0"/>
<rect x="892" y="613" width="1" height="41" fill="#c0c0c0"/>
<rect x="900" y="613" width="1" height="41" fill="#c0c0c0"/>
<rect x="908" y="613" width="1" height="39" fill="#c0c0c0"/>
<rect x="916" y="613" width="1" height="45" fill="#c0c0c0"/>
<rect x="924" y="613" width="1" height="49" fill="#c0c0c0"/>
<rect x="932" y="613" width="1" height="47" fill="#c0c0c0"/>
<rect x="940" y="613" width="1" height="47" fill="#c0c0c0"/>
<rect x="948" y="613" width="1" height="35" fill="#c0c0c0"/>
<rect x="956" y="613" width="1" height="28" fill="#c0c0c0"/>
<rect x="964" y="613" width="1" height="21" fill="#c0c0c0"/>
<rect x="972" y="613" width="1" height="19" fill="#c0c0c0"/>
<rect x="980" y="613" width="1" height="14" fill="#c0c0c0"/>
<rect x="988" y="613" width="1" height="10" fill="#c0c0c0"/>
<rect x="996" y="613" width="1" height="7" fill="#c0c0c0"/>
<rect x="1004" y="613" width="1" height="7" fill="#c0c0c0"/>
<rect x="1012" y="613" width="1" height="10" fill="#c0c0c0"/>
<rect x="1020" y="613" width="1" height="15" fill="#c0c0c0"/>
<rect x="1028" y="613" width="1" height="19" fill="#c0c0c0"/>
<rect x="1036" y="613" width="1" height="25" fill="#c0c0c0"/>
<rect x="1044" y="613" width="1" height="29" fill="#c0c0c0"/>
<rect x="1052" y="613" width="1" height="30" fill="#c0c0c0"/>
<rect x="1060" y="613" width="1" height="31" fill="#c0c0c0"/>
<rect x="1068" y="613" width="1" height="33" fill="#c0c0c0"/>
<rect x="1076" y="613" width="1" height="28" fill="#c0c0c0"/>
<rect x="1084" y="613" width="1" height="24" fill="#c0c0c0"/>
<rect x="1092" y="613" width="1" height="25" fill="#c0c0c0"/>
<rect x="1100" y="613" width="1" height="26" fill="#c0c0c0"/>
<rect x="1108" y="613" width="1" height="27" fill="#c0c0c0"/>
<rect x="1116" y="613" width="1" height="29" fill="#c0c0c0"/>
<path d="M712 575h3v1h-3zM718 575h2v1h-2zM707 576h2v1h-2zM720 576h1v1h-1zM724 576h2v1h-2zM706 577h1v1h-1zM726 577h1v1h-1zM730 578h3v1h-3zM701 579h2v1h-2zM700 580h1v1h-1zM736 580h3v1h-3zM695 582h2v1h-2zM742 582h1v1h-1zM694 583h1v1h-1zM743 583h1v1h-1zM690 584h1v1h-1zM744 584h1v1h-1zM688 585h2v1h-2zM684 586h1v1h-1zM748 586h1v1h-1zM682 587h2v1h-2zM749 587h2v1h-2zM604 588h3v1h-3zM610 588h3v1h-3zM598 589h3v1h-3zM616 589h3v1h-3zM622 590h3v1h-3zM677 590h2v1h-2zM754 590h2v1h-2zM592 591h3v1h-3zM628 591h2v1h-2zM672 591h1v1h-1zM676 591h1v1h-1zM756 591h1v1h-1zM630 592h1v1h-1zM666 592h1v1h-1zM670 592h2v1h-2zM587 593h2v1h-2zM634 593h3v1h-3zM664 593h2v1h-2zM586 594h1v1h-1zM640 594h3v1h-3zM646 594h2v1h-2zM658 594h3v1h-3zM760 594h1v1h-1zM648 595h1v1h-1zM652 595h3v1h-3zM761 595h1v1h-1zM581 596h2v1h-2zM762 596h1v1h-1zM580 597h1v1h-1zM766 599h2v1h-2zM576 600h1v1h-1zM768 600h1v1h-1zM574 601h2v1h-2zM772 603h1v1h-1zM570 604h1v1h-1zM773 604h2v1h-2zM569 605h1v1h-1zM568 606h1v1h-1zM778 607h2v1h-2zM780 608h1v1h-1zM563 609h2v1h-2zM562 610h1v1h-1zM784 610h1v1h-1zM785 611h2v1h-2zM557 612h2v1h-2zM556 613h1v1h-1zM790 613h1v1h-1zM791 614h2v1h-2zM552 615h1v1h-1zM58 616h3v1h-3zM551 616h1v1h-1zM796 616h1v1h-1zM52 617h3v1h-3zM64 617h3v1h-3zM550 617h1v1h-1zM797 617h2v1h-2zM48 618h1v1h-1zM70 618h2v1h-2zM546 618h1v1h-1zM46 619h2v1h-2zM72 619h1v1h-1zM544 619h2v1h-2zM802 619h1v1h-1zM42 620h1v1h-1zM76 620h2v1h-2zM226 620h3v1h-3zM232 620h3v1h-3zM238 620h3v1h-3zM244 620h2v1h-2zM538 620h3v1h-3zM803 620h2v1h-2zM40 621h2v1h-2zM78 621h1v1h-1zM222 621h1v1h-1zM246 621h1v1h-1zM534 621h1v1h-1zM808 621h3v1h-3zM35 622h2v1h-2zM82 622h1v1h-1zM216 622h1v1h-1zM220 622h2v1h-2zM250 622h3v1h-3zM532 622h2v1h-2zM814 622h3v1h-3zM34 623h1v1h-1zM83 623h2v1h-2zM214 623h2v1h-2zM526 623h3v1h-3zM820 623h3v1h-3zM208 624h3v1h-3zM256 624h1v1h-1zM400 624h3v1h-3zM406 624h3v1h-3zM412 624h3v1h-3zM418 624h3v1h-3zM424 624h3v1h-3zM430 624h2v1h-2zM520 624h3v1h-3zM826 624h3v1h-3zM832 624h3v1h-3zM838 624h2v1h-2zM29 625h2v1h-2zM257 625h2v1h-2zM395 625h2v1h-2zM432 625h1v1h-1zM436 625h3v1h-3zM514 625h3v1h-3zM840 625h1v1h-1zM844 625h3v1h-3zM28 626h1v1h-1zM88 626h2v1h-2zM203 626h2v1h-2zM394 626h1v1h-1zM442 626h3v1h-3zM508 626h3v1h-3zM850 626h3v1h-3zM1024 626h3v1h-3zM1030 626h3v1h-3zM1036 626h2v1h-2zM90 627h1v1h-1zM202 627h1v1h-1zM262 627h3v1h-3zM390 627h1v1h-1zM448 627h2v1h-2zM502 627h3v1h-3zM856 627h2v1h-2zM1019 627h2v1h-2zM1038 627h1v1h-1zM23 628h2v1h-2zM268 628h1v1h-1zM384 628h1v1h-1zM388 628h2v1h-2zM450 628h1v1h-1zM454 628h3v1h-3zM460 628h3v1h-3zM466 628h3v1h-3zM472 628h3v1h-3zM478 628h3v1h-3zM484 628h3v1h-3zM490 628h3v1h-3zM496 628h3v1h-3zM858 628h1v1h-1zM862 628h2v1h-2zM1018 628h1v1h-1zM1042 628h3v1h-3zM22 629h1v1h-1zM94 629h2v1h-2zM197 629h2v1h-2zM269 629h2v1h-2zM382 629h2v1h-2zM864 629h1v1h-1zM868 629h2v1h-2zM1014 629h1v1h-1zM1048 629h3v1h-3zM96 630h1v1h-1zM196 630h1v1h-1zM376 630h3v1h-3zM870 630h1v1h-1zM1012 630h2v1h-2zM1054 630h2v1h-2zM16 631h3v1h-3zM100 631h1v1h-1zM274 631h1v1h-1zM874 631h1v1h-1zM1056 631h1v1h-1zM12 632h1v1h-1zM101 632h2v1h-2zM191 632h2v1h-2zM275 632h2v1h-2zM371 632h2v1h-2zM875 632h2v1h-2zM1007 632h2v1h-2zM1060 632h2v1h-2zM10 633h2v1h-2zM190 633h1v1h-1zM280 633h2v1h-2zM370 633h1v1h-1zM1006 633h1v1h-1zM1062 633h1v1h-1zM6 634h1v1h-1zM106 634h1v1h-1zM186 634h1v1h-1zM282 634h1v1h-1zM366 634h1v1h-1zM880 634h3v1h-3zM1066 634h1v1h-1zM4 635h2v1h-2zM107 635h2v1h-2zM184 635h2v1h-2zM286 635h2v1h-2zM360 635h1v1h-1zM364 635h2v1h-2zM1002 635h1v1h-1zM1067 635h2v1h-2zM179 636h2v1h-2zM288 636h1v1h-1zM352 636h3v1h-3zM358 636h2v1h-2zM886 636h3v1h-3zM1000 636h2v1h-2zM1072 636h2v1h-2zM112 637h3v1h-3zM178 637h1v1h-1zM292 637h2v1h-2zM346 637h3v1h-3zM892 637h1v1h-1zM1074 637h1v1h-1zM1078 637h2v1h-2zM174 638h1v1h-1zM294 638h1v1h-1zM342 638h1v1h-1zM893 638h2v1h-2zM1080 638h1v1h-1zM1084 638h3v1h-3zM118 639h3v1h-3zM172 639h2v1h-2zM298 639h1v1h-1zM340 639h2v1h-2zM995 639h2v1h-2zM1090 639h3v1h-3zM124 640h2v1h-2zM166 640h3v1h-3zM299 640h2v1h-2zM334 640h3v1h-3zM898 640h1v1h-1zM994 640h1v1h-1zM1096 640h3v1h-3zM1102 640h3v1h-3zM1108 640h3v1h-3zM1114 640h3v1h-3zM126 641h1v1h-1zM162 641h1v1h-1zM304 641h3v1h-3zM310 641h2v1h-2zM328 641h3v1h-3zM899 641h2v1h-2zM130 642h3v1h-3zM160 642h2v1h-2zM312 642h1v1h-1zM316 642h3v1h-3zM322 642h3v1h-3zM989 642h2v1h-2zM136 643h2v1h-2zM154 643h3v1h-3zM904 643h3v1h-3zM988 643h1v1h-1zM138 644h1v1h-1zM142 644h3v1h-3zM148 644h3v1h-3zM910 645h3v1h-3zM983 645h2v1h-2zM916 646h1v1h-1zM982 646h1v1h-1zM917 647h2v1h-2zM978 647h1v1h-1zM976 648h2v1h-2zM922 649h1v1h-1zM971 649h2v1h-2zM923 650h2v1h-2zM970 650h1v1h-1zM966 651h1v1h-1zM928 652h3v1h-3zM964 652h2v1h-2zM958 653h3v1h-3zM934 654h3v1h-3zM952 654h3v1h-3zM940 655h3v1h-3zM946 655h3v1h-3z" fill="#ff0000"/>
<path d="M5 708h3v1h-3zM11 708h3v1h-3zM17 708h3v1h-3zM23 708h3v1h-3zM29 708h3v1h-3zM35 708h3v1h-3zM41 708h3v1h-3zM47 708h3v1h-3zM53 708h3v1h-3zM59 708h3v1h-3zM65 708h3v1h-3zM71 708h3v1h-3zM77 708h3v1h-3zM83 708h3v1h-3zM89 708h3v1h-3zM95 708h3v1h-3zM101 708h3v1h-3zM107 708h3v1h-3zM113 708h3v1h-3zM119 708h3v1h-3zM125 708h3v1h-3zM131 708h3v1h-3zM137 708h3v1h-3zM143 708h3v1h-3zM149 708h3v1h-3zM155 708h3v1h-3zM161 708h3v1h-3zM167 708h3v1h-3zM173 708h3v1h-3zM179 708h3v1h-3zM185 708h3v1h-3zM191 708h3v1h-3zM197 708h3v1h-3zM203 708h3v1h-3zM209 708h3v1h-3zM215 708h3v1h-3zM221 708h3v1h-3zM227 708h3v1h-3zM233 708h3v1h-3zM239 708h3v1h-3zM245 708h3v1h-3zM251 708h3v1h-3zM257 708h3v1h-3zM263 708h3v1h-3zM269 708h3v1h-3zM275 708h3v1h-3zM281 708h3v1h-3zM287 708h3v1h-3zM293 708h3v1h-3zM299 708h3v1h-3zM305 708h3v1h-3zM311 708h3v1h-3zM317 708h3v1h-3zM323 708h3v1h-3zM329 708h3v1h-3zM335 708h3v1h-3zM341 708h3v1h-3zM347 708h3v1h-3zM353 708h3v1h-3zM359 708h3v1h-3zM365 708h3v1h-3zM371 708h3v1h-3zM377 708h3v1h-3zM383 708h3v1h-3zM389 708h3v1h-3zM395 708h3v1h-3zM401 708h3v1h-3zM407 708h3v1h-3zM413 708h3v1h-3zM419 708h3v1h-3zM425 708h3v1h-3zM431 708h3v1h-3zM437 708h3v1h-3zM443 708h3v1h-3zM449 708h3v1h-3zM455 708h3v1h-3zM461 708h3v1h-3zM467 708h3v1h-3zM473 708h3v1h-3zM479 708h3v1h-3zM485 708h3v1h-3zM491 708h3v1h-3zM497 708h3v1h-3zM503 708h3v1h-3zM509 708h3v1h-3zM515 708h3v1h-3zM521 708h3v1h-3zM527 708h3v1h-3zM533 708h3v1h-3zM539 708h3v1h-3zM545 708h3v1h-3zM551 708h3v1h-3zM557 708h3v1h-3zM563 708h3v1h-3zM569 708h3v1h-3zM575 708h3v1h-3zM581 708h3v1h-3zM587 708h3v1h-3zM593 708h3v1h-3zM599 708h3v1h-3zM605 708h3v1h-3zM611 708h3v1h-3zM617 708h3v1h-3zM623 708h3v1h-3zM629 708h3v1h-3zM635 708h3v1h-3zM641 708h3v1h-3zM647 708h3v1h-3zM653 708h3v1h-3zM659 708h3v1h-3zM665 708h3v1h-3zM671 708h3v1h-3zM677 708h3v1h-3zM683 708h3v1h-3zM689 708h3v1h-3zM695 708h3v1h-3zM701 708h3v1h-3zM707 708h3v1h-3zM713 708h3v1h-3zM719 708h3v1h-3zM725 708h3v1h-3zM731 708h3v1h-3zM737 708h3v1h-3zM743 708h3v1h-3zM749 708h3v1h-3zM755 708h3v1h-3zM761 708h3v1h-3zM767 708h3v1h-3zM773 708h3v1h-3zM779 708h3v1h-3zM785 708h3v1h-3zM791 708h3v1h-3zM797 708h3v1h-3zM803 708h3v1h-3zM809 708h3v1h-3zM815 708h3v1h-3zM821 708h3v1h-3zM827 708h3v1h-3zM833 708h3v1h-3zM839 708h3v1h-3zM845 708h3v1h-3zM851 708h3v1h-3zM857 708h3v1h-3zM863 708h3v1h-3zM869 708h3v1h-3zM875 708h3v1h-3zM881 708h3v1h-3zM887 708h3v1h-3zM893 708h3v1h-3zM899 708h3v1h-3zM905 708h3v1h-3zM911 708h3v1h-3zM917 708h3v1h-3zM923 708h3v1h-3zM929 708h3v1h-3zM935 708h3v1h-3zM941 708h3v1h-3zM947 708h3v1h-3zM953 708h3v1h-3zM959 708h3v1h-3zM965 708h3v1h-3zM971 708h3v1h-3zM977 708h3v1h-3zM983 708h3v1h-3zM989 708h3v1h-3zM995 708h3v1h-3zM1001 708h3v1h-3zM1007 708h3v1h-3zM1013 708h3v1h-3zM1019 708h3v1h-3zM1025 708h3v1h-3zM1031 708h3v1h-3zM1037 708h3v1h-3zM1043 708h3v1h-3zM1049 708h3v1h-3zM1055 708h3v1h-3zM1061 708h3v1h-3zM1067 708h3v1h-3zM1073 708h3v1h-3zM1079 708h3v1h-3zM1085 708h3v1h-3zM1091 708h3v1h-3zM1097 708h3v1h-3zM1103 708h3v1h-3zM1109 708h3v1h-3zM1115 708h3v1h-3zM1121 708h3v1h-3zM1127 708h3v1h-3zM1133 708h3v1h-3zM1139 708h3v1h-3zM1145 708h3v1h-3zM1151 708h3v1h-3zM1157 708h3v1h-3zM1163 708h3v1h-3zM1169 708h3v1h-3zM1175 708h3v1h-3zM1181 708h3v1h-3zM1187 708h3v1h-3zM1193 708h3v1h-3zM1199 708h3v1h-3zM1205 708h3v1h-3zM1211 708h3v1h-3zM1217 708h3v1h-3zM1223 708h3v1h-3zM1229 708h3v1h-3zM1235 708h3v1h-3zM1241 708h3v1h-3zM1247 708h3v1h-3zM1253 708h3v1h-3zM1259 708h3v1h-3zM1265 708h3v1h-3zM1271 708h3v1h-3zM1277 708h3v1h-3zM1283 708h3v1h-3zM1289 708h3v1h-3zM1295 708h3v1h-3zM1301 708h3v1h-3zM1307 708h3v1h-3zM1313 708h3v1h-3zM1319 708h3v1h-3zM1325 708h3v1h-3zM1331 708h3v1h-3zM1337 708h3v1h-3zM1343 708h3v1h-3zM1349 708h3v1h-3zM1355 708h3v1h-3zM1361 708h3v1h-3zM1367 708h3v1h-3zM1373 708h3v1h-3zM1379 708h3v1h-3zM1385 708h3v1h-3zM1391 708h3v1h-3zM1397 708h3v1h-3zM1403 708h3v1h-3zM1409 708h3v1h-3zM1415 708h3v1h-3z" fill="#c0c0c0"/>
<path d="M5 759h3v1h-3zM11 759h3v1h-3zM17 759h3v1h-3zM23 759h3v1h-3zM29 759h3v1h-3zM35 759h3v1h-3zM41 759h3v1h-3zM47 759h3v1h-3zM53 759h3v1h-3zM59 759h3v1h-3zM65 759h3v1h-3zM71 759h3v1h-3zM77 759h3v1h-3zM83 759h3v1h-3zM89 759h3v1h-3zM95 759h3v1h-3zM101 759h3v1h-3zM107 759h3v1h-3zM113 759h3v1h-3zM119 759h3v1h-3zM125 759h3v1h-3zM131 759h3v1h-3zM137 759h3v1h-3zM143 759h3v1h-3zM149 759h3v1h-3zM155 759h3v1h-3zM161 759h3v1h-3zM167 759h3v1h-3zM173 759h3v1h-3zM179 759h3v1h-3zM185 759h3v1h-3zM191 759h3v1h-3zM197 759h3v1h-3zM203 759h3v1h-3zM209 759h3v1h-3zM215 759h3v1h-3zM221 759h3v1h-3zM227 759h3v1h-3zM233 759h3v1h-3zM239 759h3v1h-3zM245 759h3v1h-3zM251 759h3v1h-3zM257 759h3v1h-3zM263 759h3v1h-3zM269 759h3v1h-3zM275 759h3v1h-3zM281 759h3v1h-3zM287 759h3v1h-3zM293 759h3v1h-3zM299 759h3v1h-3zM305 759h3v1h-3zM311 759h3v1h-3zM317 759h3v1h-3zM323 759h3v1h-3zM329 759h3v1h-3zM335 759h3v1h-3zM341 759h3v1h-3zM347 759h3v1h-3zM353 759h3v1h-3zM359 759h3v1h-3zM365 759h3v1h-3zM371 759h3v1h-3zM377 759h3v1h-3zM383 759h3v1h-3zM389 759h3v1h-3zM395 759h3v1h-3zM401 759h3v1h-3zM407 759h3v1h-3zM413 759h3v1h-3zM419 759h3v1h-3zM425 759h3v1h-3zM431 759h3v1h-3zM437 759h3v1h-3zM443 759h3v1h-3zM449 759h3v1h-3zM455 759h3v1h-3zM461 759h3v1h-3zM467 759h3v1h-3zM473 759h3v1h-3zM479 759h3v1h-3zM485 759h3v1h-3zM491 759h3v1h-3zM497 759h3v1h-3zM503 759h3v1h-3zM509 759h3v1h-3zM515 759h3v1h-3zM521 759h3v1h-3zM527 759h3v1h-3zM533 759h3v1h-3zM539 759h3v1h-3zM545 759h3v1h-3zM551 759h3v1h-3zM557 759h3v1h-3zM563 759h3v1h-3zM569 759h3v1h-3zM575 759h3v1h-3zM581 759h3v1h-3zM587 759h3v1h-3zM593 759h3v1h-3zM599 759h3v1h-3zM605 759h3v1h-3zM611 759h3v1h-3zM617 759h3v1h-3zM623 759h3v1h-3zM629 759h3v1h-3zM635 759h3v1h-3zM641 759h3v1h-3zM647 759h3v1h-3zM653 759h3v1h-3zM659 759h3v1h-3zM665 759h3v1h-3zM671 759h3v1h-3zM677 759h3v1h-3zM683 759h3v1h-3zM689 759h3v1h-3zM695 759h3v1h-3zM701 759h3v1h-3zM707 759h3v1h-3zM713 759h3v1h-3zM719 759h3v1h-3zM725 759h3v1h-3zM731 759h3v1h-3zM737 759h3v1h-3zM743 759h3v1h-3zM749 759h3v1h-3zM755 759h3v1h-3zM761 759h3v1h-3zM767 759h3v1h-3zM773 759h3v1h-3zM779 759h3v1h-3zM785 759h3v1h-3zM791 759h3v1h-3zM797 759h3v1h-3zM803 759h3v1h-3zM809 759h3v1h-3zM815 759h3v1h-3zM821 759h3v1h-3zM827 759h3v1h-3zM833 759h3v1h-3zM839 759h3v1h-3zM845 759h3v1h-3zM851 759h3v1h-3zM857 759h3v1h-3zM863 759h3v1h-3zM869 759h3v1h-3zM875 759h3v1h-3zM881 759h3v1h-3zM887 759h3v1h-3zM893 759h3v1h-3zM899 759h3v1h-3zM905 759h3v1h-3zM911 759h3v1h-3zM917 759h3v1h-3zM923 759h3v1h-3zM929 759h3v1h-3zM935 759h3v1h-3zM941 759h3v1h-3zM947 759h3v1h-3zM953 759h3v1h-3zM959 759h3v1h-3zM965 759h3v1h-3zM971 759h3v1h-3zM977 759h3v1h-3zM983 759h3v1h-3zM989 759h3v1h-3zM995 759h3v1h-3zM1001 759h3v1h-3zM1007 759h3v1h-3zM1013 759h3v1h-3zM1019 759h3v1h-3zM1025 759h3v1h-3zM1031 759h3v1h-3zM1037 759h3v1h-3zM1043 759h3v1h-3zM1049 759h3v1h-3zM1055 759h3v1h-3zM1061 759h3v1h-3zM1067 759h3v1h-3zM1073 759h3v1h-3zM1079 759h3v1h-3zM1085 759h3v1h-3zM1091 759h3v1h-3zM1097 759h3v1h-3zM1103 759h3v1h-3zM1109 759h3v1h-3zM1115 759h3v1h-3zM1121 759h3v1h-3zM1127 759h3v1h-3zM1133 759h3v1h-3zM1139 759h3v1h-3zM1145 759h3v1h-3zM1151 759h3v1h-3zM1157 759h3v1h-3zM1163 759h3v1h-3zM1169 759h3v1h-3zM1175 759h3v1h-3zM1181 759h3v1h-3zM1187 759h3v1h-3zM1193 759h3v1h-3zM1199 759h3v1h-3zM1205 759h3v1h-3zM1211 759h3v1h-3zM1217 759h3v1h-3zM1223 759h3v1h-3zM1229 759h3v1h-3zM1235 759h3v1h-3zM1241 759h3v1h-3zM1247 759h3v1h-3zM1253 759h3v1h-3zM1259 759h3v1h-3zM1265 759h3v1h-3zM1271 759h3v1h-3zM1277 759h3v1h-3zM1283 759h3v1h-3zM1289 759h3v1h-3zM1295 759h3v1h-3zM1301 759h3v1h-3zM1307 759h3v1h-3zM1313 759h3v1h-3zM1319 759h3v1h-3zM1325 759h3v1h-3zM1331 759h3v1h-3zM1337 759h3v1h-3zM1343 759h3v1h-3zM1349 759h3v1h-3zM1355 759h3v1h-3zM1361 759h3v1h-3zM1367 759h3v1h-3zM1373 759h3v1h-3zM1379 759h3v1h-3zM1385 759h3v1h-3zM1391 759h3v1h-3zM1397 759h3v1h-3zM1403 759h3v1h-3zM1409 759h3v1h-3zM1415 759h3v1h-3z" fill="#c0c0c0"/>
<path d="M548 709h1v1h-1zM547 710h1v1h-1zM549 710h2v1h-2zM546 711h1v1h-1zM551 711h1v1h-1zM656 711h5v1h-5zM545 712h1v1h-1zM552 712h2v1h-2zM650 712h6v1h-6zM661 712h1v1h-1zM544 713h1v2h-1zM554 713h2v1h-2zM569 713h5v1h-5zM646 713h4v1h-4zM662 713h2v1h-2zM556 714h13v1h-13zM574 714h1v1h-1zM644 714h2v1h-2zM664 714h1v1h-1zM543 715h1v1h-1zM575 715h1v1h-1zM643 715h1v1h-1zM665 715h1v1h-1zM12 716h1v1h-1zM542 716h1v1h-1zM576 716h1v1h-1zM642 716h1v1h-1zM666 716h2v1h-2zM688 716h5v1h-5zM11 717h1v2h-1zM13 717h1v2h-1zM541 717h1v1h-1zM577 717h1v2h-1zM641 717h1v1h-1zM668 717h1v1h-1zM673 717h15v1h-15zM693 717h2v1h-2zM540 718h1v1h-1zM640 718h1v2h-1zM669 718h4v1h-4zM695 718h2v1h-2zM10 719h1v1h-1zM14 719h1v1h-1zM520 719h5v1h-5zM539 719h1v1h-1zM578 719h1v1h-1zM697 719h2v1h-2zM9 720h1v1h-1zM15 720h1v1h-1zM516 720h4v1h-4zM525 720h1v1h-1zM538 720h1v1h-1zM579 720h1v1h-1zM639 720h1v1h-1zM699 720h2v1h-2zM8 721h1v2h-1zM16 721h1v2h-1zM516 721h1v1h-1zM526 721h2v1h-2zM537 721h1v2h-1zM580 721h1v1h-1zM638 721h1v1h-1zM701 721h1v1h-1zM515 722h1v2h-1zM528 722h1v1h-1zM581 722h2v1h-2zM637 722h1v1h-1zM702 722h1v2h-1zM7 723h1v1h-1zM17 723h1v1h-1zM529 723h1v1h-1zM536 723h1v1h-1zM583 723h2v1h-2zM636 723h1v1h-1zM6 724h1v1h-1zM18 724h1v1h-1zM514 724h1v2h-1zM530 724h2v1h-2zM535 724h1v1h-1zM585 724h2v1h-2zM635 724h1v2h-1zM703 724h1v2h-1zM948 724h1v1h-1zM5 725h1v2h-1zM19 725h1v2h-1zM532 725h1v1h-1zM534 725h1v1h-1zM587 725h2v1h-2zM948 725h2v1h-2zM184 726h4v1h-4zM513 726h1v2h-1zM533 726h1v1h-1zM589 726h1v2h-1zM634 726h1v1h-1zM704 726h1v2h-1zM947 726h1v3h-1zM950 726h2v1h-2zM4 727h1v1h-1zM20 727h1v1h-1zM176 727h8v1h-8zM188 727h2v1h-2zM633 727h1v1h-1zM952 727h1v1h-1zM21 728h1v2h-1zM172 728h4v1h-4zM190 728h2v1h-2zM512 728h1v2h-1zM590 728h1v2h-1zM632 728h1v2h-1zM705 728h1v2h-1zM953 728h1v1h-1zM995 728h2v1h-2zM171 729h1v1h-1zM192 729h1v1h-1zM360 729h8v1h-8zM946 729h1v3h-1zM954 729h2v1h-2zM991 729h4v1h-4zM997 729h1v1h-1zM22 730h1v1h-1zM170 730h1v1h-1zM193 730h2v1h-2zM203 730h2v1h-2zM355 730h5v1h-5zM368 730h5v1h-5zM453 730h2v1h-2zM511 730h1v2h-1zM591 730h1v2h-1zM631 730h1v1h-1zM706 730h1v2h-1zM956 730h11v1h-11zM980 730h11v1h-11zM998 730h1v1h-1zM23 731h1v2h-1zM169 731h1v1h-1zM195 731h2v1h-2zM199 731h4v1h-4zM205 731h1v2h-1zM353 731h2v1h-2zM373 731h1v1h-1zM452 731h1v1h-1zM455 731h4v1h-4zM630 731h1v1h-1zM967 731h2v1h-2zM978 731h2v1h-2zM999 731h1v1h-1zM154 732h3v1h-3zM168 732h1v1h-1zM197 732h2v1h-2zM351 732h2v1h-2zM374 732h2v1h-2zM451 732h1v1h-1zM459 732h4v1h-4zM510 732h1v2h-1zM592 732h1v1h-1zM629 732h1v2h-1zM707 732h1v2h-1zM945 732h1v3h-1zM969 732h2v1h-2zM976 732h2v1h-2zM1000 732h1v1h-1zM24 733h1v1h-1zM150 733h4v1h-4zM157 733h2v1h-2zM167 733h1v1h-1zM206 733h1v2h-1zM349 733h2v1h-2zM376 733h1v1h-1zM449 733h2v1h-2zM463 733h2v1h-2zM593 733h1v2h-1zM971 733h2v1h-2zM974 733h2v1h-2zM1001 733h1v1h-1zM25 734h1v2h-1zM146 734h4v1h-4zM159 734h2v1h-2zM166 734h1v1h-1zM347 734h2v1h-2zM377 734h1v1h-1zM448 734h1v1h-1zM465 734h2v1h-2zM509 734h1v2h-1zM628 734h1v1h-1zM708 734h1v2h-1zM787 734h11v1h-11zM828 734h1v1h-1zM973 734h1v1h-1zM1002 734h1v1h-1zM1076 734h4v1h-4zM142 735h4v1h-4zM161 735h2v1h-2zM165 735h1v1h-1zM207 735h1v1h-1zM345 735h2v1h-2zM378 735h2v1h-2zM447 735h1v1h-1zM467 735h2v1h-2zM594 735h1v2h-1zM627 735h1v1h-1zM713 735h16v1h-16zM785 735h2v1h-2zM798 735h4v1h-4zM827 735h1v1h-1zM829 735h1v1h-1zM944 735h1v4h-1zM1003 735h1v1h-1zM1075 735h1v2h-1zM1080 735h5v1h-5zM26 736h1v1h-1zM43 736h2v1h-2zM140 736h2v1h-2zM163 736h2v1h-2zM208 736h1v2h-1zM227 736h2v1h-2zM343 736h2v1h-2zM380 736h1v1h-1zM385 736h4v1h-4zM446 736h1v1h-1zM469 736h1v1h-1zM508 736h1v1h-1zM611 736h2v1h-2zM626 736h1v1h-1zM709 736h4v1h-4zM729 736h5v1h-5zM783 736h2v1h-2zM802 736h3v1h-3zM826 736h1v1h-1zM830 736h1v1h-1zM1004 736h1v1h-1zM1085 736h1v1h-1zM27 737h1v2h-1zM40 737h3v1h-3zM45 737h2v1h-2zM139 737h1v1h-1zM225 737h2v1h-2zM229 737h1v1h-1zM285 737h2v1h-2zM323 737h3v1h-3zM341 737h2v1h-2zM381 737h4v1h-4zM389 737h1v1h-1zM445 737h1v1h-1zM470 737h2v1h-2zM500 737h9v1h-9zM595 737h1v2h-1zM607 737h4v1h-4zM613 737h2v1h-2zM624 737h2v1h-2zM734 737h1v2h-1zM772 737h4v1h-4zM781 737h2v1h-2zM805 737h1v1h-1zM825 737h1v2h-1zM831 737h1v1h-1zM1005 737h2v1h-2zM1074 737h1v2h-1zM1086 737h1v1h-1zM38 738h2v1h-2zM47 738h1v1h-1zM138 738h1v1h-1zM209 738h1v1h-1zM223 738h2v1h-2zM230 738h1v1h-1zM283 738h2v1h-2zM287 738h4v1h-4zM321 738h2v1h-2zM326 738h2v1h-2zM338 738h3v1h-3zM390 738h1v1h-1zM444 738h1v1h-1zM472 738h1v1h-1zM499 738h1v2h-1zM601 738h6v1h-6zM615 738h1v1h-1zM623 738h1v1h-1zM771 738h1v2h-1zM776 738h5v1h-5zM806 738h1v2h-1zM832 738h2v1h-2zM1007 738h1v1h-1zM1087 738h1v1h-1zM28 739h10v1h-10zM48 739h2v1h-2zM137 739h1v1h-1zM210 739h1v2h-1zM221 739h2v1h-2zM231 739h1v1h-1zM282 739h1v1h-1zM291 739h2v1h-2zM319 739h2v1h-2zM328 739h3v1h-3zM334 739h4v1h-4zM391 739h1v1h-1zM443 739h1v1h-1zM473 739h1v1h-1zM596 739h5v1h-5zM616 739h2v1h-2zM622 739h1v1h-1zM735 739h1v1h-1zM824 739h1v1h-1zM834 739h1v1h-1zM943 739h1v3h-1zM1008 739h2v1h-2zM1073 739h1v2h-1zM1088 739h1v1h-1zM50 740h2v1h-2zM136 740h1v2h-1zM219 740h2v1h-2zM232 740h2v1h-2zM280 740h2v1h-2zM293 740h2v1h-2zM307 740h5v1h-5zM317 740h2v1h-2zM331 740h3v1h-3zM392 740h1v1h-1zM442 740h1v1h-1zM474 740h2v1h-2zM498 740h1v2h-1zM618 740h2v1h-2zM621 740h1v1h-1zM736 740h1v1h-1zM770 740h1v1h-1zM807 740h1v1h-1zM823 740h1v1h-1zM835 740h1v1h-1zM1010 740h1v1h-1zM1089 740h1v1h-1zM52 741h2v1h-2zM108 741h2v1h-2zM211 741h1v2h-1zM216 741h3v1h-3zM234 741h1v1h-1zM279 741h1v1h-1zM295 741h1v1h-1zM305 741h2v1h-2zM312 741h5v1h-5zM393 741h1v1h-1zM441 741h1v2h-1zM476 741h1v1h-1zM620 741h1v1h-1zM737 741h1v2h-1zM769 741h1v2h-1zM808 741h1v1h-1zM822 741h1v1h-1zM836 741h1v1h-1zM1011 741h2v1h-2zM1072 741h1v2h-1zM1090 741h1v1h-1zM54 742h2v1h-2zM107 742h1v1h-1zM110 742h2v1h-2zM135 742h1v1h-1zM214 742h2v1h-2zM235 742h1v1h-1zM277 742h2v1h-2zM296 742h2v1h-2zM303 742h2v1h-2zM394 742h1v1h-1zM477 742h1v1h-1zM497 742h1v2h-1zM809 742h1v1h-1zM820 742h2v1h-2zM837 742h10v1h-10zM942 742h1v3h-1zM1013 742h1v1h-1zM1091 742h1v1h-1zM56 743h3v1h-3zM106 743h1v1h-1zM112 743h3v1h-3zM134 743h1v1h-1zM212 743h2v1h-2zM236 743h1v1h-1zM276 743h1v1h-1zM298 743h2v1h-2zM301 743h2v1h-2zM395 743h1v1h-1zM440 743h1v1h-1zM478 743h1v1h-1zM738 743h1v1h-1zM768 743h1v1h-1zM810 743h1v2h-1zM818 743h2v1h-2zM847 743h2v1h-2zM1014 743h2v1h-2zM1071 743h1v2h-1zM1092 743h2v1h-2zM59 744h3v1h-3zM105 744h1v1h-1zM115 744h5v1h-5zM133 744h1v1h-1zM237 744h1v2h-1zM275 744h1v1h-1zM300 744h1v1h-1zM396 744h2v1h-2zM439 744h1v1h-1zM479 744h1v1h-1zM496 744h1v1h-1zM739 744h1v1h-1zM767 744h1v2h-1zM816 744h2v1h-2zM849 744h2v1h-2zM1016 744h1v1h-1zM1094 744h4v1h-4zM62 745h2v1h-2zM104 745h1v2h-1zM120 745h13v1h-13zM274 745h1v2h-1zM398 745h2v1h-2zM410 745h21v1h-21zM438 745h1v1h-1zM480 745h2v1h-2zM495 745h1v2h-1zM740 745h1v2h-1zM811 745h1v1h-1zM814 745h2v1h-2zM851 745h2v1h-2zM941 745h1v3h-1zM1017 745h2v1h-2zM1070 745h1v2h-1zM1098 745h19v1h-19zM64 746h3v1h-3zM238 746h1v1h-1zM400 746h3v1h-3zM406 746h4v1h-4zM431 746h4v1h-4zM437 746h1v1h-1zM482 746h1v1h-1zM745 746h5v1h-5zM766 746h1v1h-1zM812 746h2v1h-2zM853 746h1v1h-1zM1019 746h2v1h-2zM67 747h3v1h-3zM82 747h4v1h-4zM103 747h1v1h-1zM239 747h1v1h-1zM273 747h1v1h-1zM403 747h3v1h-3zM435 747h2v1h-2zM483 747h1v1h-1zM494 747h1v2h-1zM741 747h4v1h-4zM750 747h4v1h-4zM765 747h1v2h-1zM854 747h1v1h-1zM907 747h2v1h-2zM1021 747h2v1h-2zM1051 747h5v1h-5zM1069 747h1v2h-1zM70 748h4v1h-4zM78 748h4v1h-4zM86 748h2v1h-2zM102 748h1v1h-1zM240 748h1v2h-1zM272 748h1v1h-1zM484 748h1v1h-1zM754 748h6v1h-6zM855 748h1v1h-1zM905 748h2v1h-2zM909 748h1v2h-1zM940 748h1v1h-1zM1023 748h4v1h-4zM1049 748h2v1h-2zM1056 748h8v1h-8zM74 749h4v1h-4zM88 749h3v1h-3zM101 749h1v1h-1zM271 749h1v1h-1zM485 749h2v1h-2zM493 749h1v2h-1zM760 749h5v1h-5zM856 749h2v1h-2zM903 749h2v1h-2zM933 749h8v1h-8zM1027 749h13v1h-13zM1047 749h2v1h-2zM1064 749h5v1h-5zM91 750h10v1h-10zM241 750h1v1h-1zM270 750h1v2h-1zM487 750h4v1h-4zM858 750h1v1h-1zM901 750h2v1h-2zM910 750h1v2h-1zM932 750h1v1h-1zM1040 750h3v1h-3zM1045 750h2v1h-2zM242 751h1v1h-1zM260 751h2v1h-2zM491 751h2v1h-2zM859 751h1v1h-1zM899 751h2v1h-2zM931 751h1v1h-1zM1043 751h2v1h-2zM243 752h1v2h-1zM258 752h2v1h-2zM262 752h4v1h-4zM269 752h1v1h-1zM860 752h1v1h-1zM897 752h2v1h-2zM911 752h1v1h-1zM930 752h1v1h-1zM256 753h2v1h-2zM266 753h3v1h-3zM861 753h4v1h-4zM873 753h5v1h-5zM895 753h2v1h-2zM912 753h1v2h-1zM928 753h2v1h-2zM244 754h2v1h-2zM255 754h1v1h-1zM865 754h8v1h-8zM878 754h3v1h-3zM893 754h2v1h-2zM927 754h1v1h-1zM246 755h4v1h-4zM253 755h2v1h-2zM881 755h3v1h-3zM889 755h4v1h-4zM913 755h1v1h-1zM926 755h1v1h-1zM250 756h3v1h-3zM884 756h5v1h-5zM914 756h1v2h-1zM925 756h1v1h-1zM923 757h2v1h-2zM915 758h1v2h-1zM920 758h3v1h-3zM918 759h2v1h-2zM916 760h2v1h-2z" fill="#1e90ff"/>
</g>
<text x="1425.6" y="34" font-size="10" fill="#000" textLength="32.5" lengthAdjust="spacingAndGlyphs" stroke="#000" stroke-width="0.25">1.14635</text>
<text x="1425.6" y="67" font-size="10" fill="#000" textLength="32.5" lengthAdjust="spacingAndGlyphs" stroke="#000" stroke-width="0.25">1.14355</text>
<text x="1425.6" y="100" font-size="10" fill="#000" textLength="32.5" lengthAdjust="spacingAndGlyphs" stroke="#000" stroke-width="0.25">1.14075</text>
<text x="1425.6" y="133" font-size="10" fill="#000" textLength="32.5" lengthAdjust="spacingAndGlyphs" stroke="#000" stroke-width="0.25">1.13795</text>
<text x="1425.6" y="166" font-size="10" fill="#000" textLength="32.5" lengthAdjust="spacingAndGlyphs" stroke="#000" stroke-width="0.25">1.13515</text>
<text x="1425.6" y="199" font-size="10" fill="#000" textLength="32.5" lengthAdjust="spacingAndGlyphs" stroke="#000" stroke-width="0.25">1.13240</text>
<text x="1425.6" y="232" font-size="10" fill="#000" textLength="32.5" lengthAdjust="spacingAndGlyphs" stroke="#000" stroke-width="0.25">1.12960</text>
<text x="1425.6" y="265" font-size="10" fill="#000" textLength="32.5" lengthAdjust="spacingAndGlyphs" stroke="#000" stroke-width="0.25">1.12680</text>
<text x="1425.6" y="298" font-size="10" fill="#000" textLength="32.5" lengthAdjust="spacingAndGlyphs" stroke="#000" stroke-width="0.25">1.12400</text>
<text x="1425.6" y="331" font-size="10" fill="#000" textLength="32.5" lengthAdjust="spacingAndGlyphs" stroke="#000" stroke-width="0.25">1.12120</text>
<text x="1425.6" y="364" font-size="10" fill="#000" textLength="32.5" lengthAdjust="spacingAndGlyphs" stroke="#000" stroke-width="0.25">1.11845</text>
<text x="1425.6" y="397" font-size="10" fill="#000" textLength="32.5" lengthAdjust="spacingAndGlyphs" stroke="#000" stroke-width="0.25">1.11565</text>
<text x="1425.6" y="430" font-size="10" fill="#000" textLength="32.5" lengthAdjust="spacingAndGlyphs" stroke="#000" stroke-width="0.25">1.11285</text>
<text x="1425.6" y="463" font-size="10" fill="#000" textLength="32.5" lengthAdjust="spacingAndGlyphs" stroke="#000" stroke-width="0.25">1.11005</text>
<text x="1425.6" y="496" font-size="10" fill="#000" textLength="32.5" lengthAdjust="spacingAndGlyphs" stroke="#000" stroke-width="0.25">1.10725</text>
<text x="1425.6" y="529" font-size="10" fill="#000" textLength="32.5" lengthAdjust="spacingAndGlyphs" stroke="#000" stroke-width="0.25">1.10450</text>
<text x="1425.6" y="562" font-size="10" fill="#000" textLength="32.5" lengthAdjust="spacingAndGlyphs" stroke="#000" stroke-width="0.25">1.10170</text>
<g shape-rendering="crispEdges">
<rect x="1421" y="98" width="41" height="11" fill="#ff0000"/>
<rect x="1421" y="235" width="41" height="11" fill="#ff0000"/>
<rect x="1421" y="347" width="41" height="11" fill="#ff0000"/>
<rect x="1421" y="454" width="41" height="11" fill="#00ff00"/>
<rect x="1421" y="472" width="41" height="11" fill="#000"/>
<rect x="1421" y="549" width="41" height="11" fill="#0000ff"/>
</g>
<text x="1425.6" y="107" font-size="10" fill="#fff" textLength="32.5" lengthAdjust="spacingAndGlyphs" stroke="#fff" stroke-width="0.2">1.14009</text>
<text x="1425.6" y="244" font-size="10" fill="#fff" textLength="32.5" lengthAdjust="spacingAndGlyphs" stroke="#fff" stroke-width="0.2">1.12851</text>
<text x="1425.6" y="356" font-size="10" fill="#fff" textLength="32.5" lengthAdjust="spacingAndGlyphs" stroke="#fff" stroke-width="0.2">1.11901</text>
<text x="1425.6" y="463" font-size="10" fill="#fff" textLength="32.5" lengthAdjust="spacingAndGlyphs" stroke="#fff" stroke-width="0.2">1.11000</text>
<text x="1425.6" y="481" font-size="10" fill="#fff" textLength="32.5" lengthAdjust="spacingAndGlyphs" stroke="#fff" stroke-width="0.2">1.10856</text>
<text x="1425.6" y="558" font-size="10" fill="#fff" textLength="32.5" lengthAdjust="spacingAndGlyphs" stroke="#fff" stroke-width="0.2">1.10201</text>
<text x="1423" y="574" font-size="10" fill="#000" textLength="38" lengthAdjust="spacingAndGlyphs" stroke="#000" stroke-width="0.25">0.004517</text>
<text x="1423" y="617" font-size="10" fill="#000" textLength="18" lengthAdjust="spacingAndGlyphs" stroke="#000" stroke-width="0.25">0.00</text>
<text x="1423.2" y="663" font-size="10" fill="#000" textLength="40.6" lengthAdjust="spacingAndGlyphs" stroke="#000" stroke-width="0.25">-0.004806</text>
<text x="1423.6" y="679" font-size="10" fill="#000" textLength="14" lengthAdjust="spacingAndGlyphs" stroke="#000" stroke-width="0.25">100</text>
<text x="1422.2" y="712" font-size="10" fill="#000" textLength="9.8" lengthAdjust="spacingAndGlyphs" stroke="#000" stroke-width="0.25">70</text>
<text x="1422.2" y="763" font-size="10" fill="#000" textLength="9.8" lengthAdjust="spacingAndGlyphs" stroke="#000" stroke-width="0.25">30</text>
<text x="1423.2" y="795" font-size="10" fill="#000" textLength="4.8" lengthAdjust="spacingAndGlyphs" stroke="#000" stroke-width="0.25">0</text>
<path d="M7 33 L10.5 29 L14 33 Z" fill="#000"/>
<text x="19.2" y="34" font-size="10" fill="#000" textLength="66.3" lengthAdjust="spacingAndGlyphs" stroke="#000" stroke-width="0.25">EURUSD-,Daily</text>
<text x="92.6" y="34" font-size="10" fill="#000" textLength="140" lengthAdjust="spacingAndGlyphs" stroke="#000" stroke-width="0.25">1.10844 1.10860 1.10825 1.10856</text>
<text x="8.3" y="576" font-size="10" fill="#000" textLength="65.7" lengthAdjust="spacingAndGlyphs" stroke="#000" stroke-width="0.25">MACD(12,26,9)</text>
<text x="77" y="576" font-size="10" fill="#000" textLength="84.8" lengthAdjust="spacingAndGlyphs" stroke="#000" stroke-width="0.25">-0.002350 -0.002426</text>
<text x="8.2" y="681" font-size="10" fill="#000" textLength="31.4" lengthAdjust="spacingAndGlyphs" stroke="#000" stroke-width="0.25">RSI(14)</text>
<text x="43.2" y="681" font-size="10" fill="#000" textLength="32.5" lengthAdjust="spacingAndGlyphs" stroke="#000" stroke-width="0.25">40.8392</text>
<text x="6.8" y="10" font-size="10" fill="#444" textLength="12" lengthAdjust="spacingAndGlyphs">H4</text>
<text x="35.8" y="10" font-size="10" fill="#444" textLength="11.2" lengthAdjust="spacingAndGlyphs">D1</text>
<text x="63" y="10" font-size="10" fill="#444" textLength="14.2" lengthAdjust="spacingAndGlyphs">W1</text>
<text x="89.6" y="10" font-size="10" fill="#444" textLength="14.4" lengthAdjust="spacingAndGlyphs">MN</text>
<path d="M1130 23 L1139.5 23 L1134.7 28.2 Z" fill="#c0c0c0"/>
<text x="3.6" y="811" font-size="10" fill="#000" textLength="51.3" lengthAdjust="spacingAndGlyphs" stroke="#000" stroke-width="0.25">19 Mar 2019</text>
<text x="67.6" y="811" font-size="10" fill="#000" textLength="51.3" lengthAdjust="spacingAndGlyphs" stroke="#000" stroke-width="0.25">28 Mar 2019</text>
<text x="131.6" y="811" font-size="10" fill="#000" textLength="45.9" lengthAdjust="spacingAndGlyphs" stroke="#000" stroke-width="0.25">7 Apr 2019</text>
<text x="195.6" y="811" font-size="10" fill="#000" textLength="50.1" lengthAdjust="spacingAndGlyphs" stroke="#000" stroke-width="0.25">16 Apr 2019</text>
<text x="259.6" y="811" font-size="10" fill="#000" textLength="50.1" lengthAdjust="spacingAndGlyphs" stroke="#000" stroke-width="0.25">26 Apr 2019</text>
<text x="323.6" y="811" font-size="10" fill="#000" textLength="49.1" lengthAdjust="spacingAndGlyphs" stroke="#000" stroke-width="0.25">6 May 2019</text>
<text x="387.6" y="811" font-size="10" fill="#000" textLength="54.4" lengthAdjust="spacingAndGlyphs" stroke="#000" stroke-width="0.25">15 May 2019</text>
<text x="451.6" y="811" font-size="10" fill="#000" textLength="54.1" lengthAdjust="spacingAndGlyphs" stroke="#000" stroke-width="0.25">24 May 2019</text>
<text x="515.6" y="811" font-size="10" fill="#000" textLength="44.2" lengthAdjust="spacingAndGlyphs" stroke="#000" stroke-width="0.25">3 Jun 2019</text>
<text x="579.6" y="811" font-size="10" fill="#000" textLength="49.1" lengthAdjust="spacingAndGlyphs" stroke="#000" stroke-width="0.25">12 Jun 2019</text>
<text x="643.6" y="811" font-size="10" fill="#000" textLength="49.1" lengthAdjust="spacingAndGlyphs" stroke="#000" stroke-width="0.25">21 Jun 2019</text>
<text x="707.6" y="811" font-size="10" fill="#000" textLength="41.6" lengthAdjust="spacingAndGlyphs" stroke="#000" stroke-width="0.25">1 Jul 2019</text>
<text x="771.6" y="811" font-size="10" fill="#000" textLength="46.9" lengthAdjust="spacingAndGlyphs" stroke="#000" stroke-width="0.25">10 Jul 2019</text>
<text x="835.6" y="811" font-size="10" fill="#000" textLength="46.2" lengthAdjust="spacingAndGlyphs" stroke="#000" stroke-width="0.25">19 Jul 2019</text>
<text x="899.6" y="811" font-size="10" fill="#000" textLength="46.2" lengthAdjust="spacingAndGlyphs" stroke="#000" stroke-width="0.25">29 Jul 2019</text>
<text x="963.6" y="811" font-size="10" fill="#000" textLength="47.5" lengthAdjust="spacingAndGlyphs" stroke="#000" stroke-width="0.25">7 Aug 2019</text>
<text x="1027.6" y="811" font-size="10" fill="#000" textLength="52.4" lengthAdjust="spacingAndGlyphs" stroke="#000" stroke-width="0.25">16 Aug 2019</text>
<text x="1091.6" y="811" font-size="10" fill="#000" textLength="52.4" lengthAdjust="spacingAndGlyphs" stroke="#000" stroke-width="0.25">26 Aug 2019</text>
<g shape-rendering="crispEdges">
<rect x="0" y="819" width="1465" height="1" fill="#e3e3e3"/>
<rect x="0" y="822" width="1465" height="1" fill="#fafafa"/>
<rect x="0" y="823" width="1465" height="18" fill="#f0f0f0"/>
<rect x="0" y="841" width="1465" height="1" fill="#fbfbfb"/>
<rect x="0" y="842" width="1465" height="1" fill="#f0f0f0"/>
<rect x="0" y="821" width="1465" height="1" fill="#000"/>
<rect x="0" y="822" width="1" height="18" fill="#808080"/>
<rect x="6" y="820" width="106" height="19" fill="#fff"/>
<rect x="5" y="821" width="1" height="19" fill="#000"/>
<rect x="112" y="821" width="1" height="19" fill="#000"/>
<rect x="5" y="839" width="108" height="1" fill="#000"/>
<rect x="113" y="823" width="1" height="18" fill="#dadada"/>
<rect x="6" y="840" width="108" height="1" fill="#dadada"/>
<rect x="221" y="824" width="1" height="14" fill="#5a5a5a"/>
<rect x="329" y="824" width="1" height="14" fill="#5a5a5a"/>
<rect x="437" y="824" width="1" height="14" fill="#5a5a5a"/>
<rect x="549" y="824" width="1" height="14" fill="#5a5a5a"/>
<rect x="669" y="824" width="1" height="14" fill="#5a5a5a"/>
<rect x="793" y="824" width="1" height="14" fill="#5a5a5a"/>
<rect x="889" y="824" width="1" height="14" fill="#5a5a5a"/>
<rect x="969" y="824" width="1" height="14" fill="#5a5a5a"/>
<rect x="1073" y="824" width="1" height="14" fill="#5a5a5a"/>
</g>
<text x="16.4" y="836" font-size="13" fill="#000" textLength="84.6" lengthAdjust="spacingAndGlyphs">EURUSD-,Daily</text>
<text x="123.2" y="836" font-size="13" fill="#808080" textLength="86.6" lengthAdjust="spacingAndGlyphs">AUDUSD-,Daily</text>
<text x="233.4" y="836" font-size="13" fill="#808080" textLength="83.6" lengthAdjust="spacingAndGlyphs">USDCHF-,Daily</text>
<text x="340.2" y="836" font-size="13" fill="#808080" textLength="85.8" lengthAdjust="spacingAndGlyphs">USDCAD-,Daily</text>
<text x="449" y="836" font-size="13" fill="#808080" textLength="87.8" lengthAdjust="spacingAndGlyphs">USDCNH-,Daily</text>
<text x="559.8" y="836" font-size="13" fill="#808080" textLength="97.2" lengthAdjust="spacingAndGlyphs">EURCHF-,Weekly</text>
<text x="681" y="836" font-size="13" fill="#808080" textLength="99.9" lengthAdjust="spacingAndGlyphs">XAUUSD-,Weekly</text>
<text x="803.8" y="836" font-size="13" fill="#808080" textLength="72.8" lengthAdjust="spacingAndGlyphs">GBPUSD-,H1</text>
<text x="900.5" y="836" font-size="13" fill="#808080" textLength="56.3" lengthAdjust="spacingAndGlyphs">UKOil-,H1</text>
<text x="979.1" y="836" font-size="13" fill="#808080" textLength="82.9" lengthAdjust="spacingAndGlyphs">USDX-,Weekly</text>
<path d="M1438 827 L1438 833.5 L1434.8 830.2 Z" fill="#909090"/><path d="M1454 827 L1454 833.5 L1457.5 830.2 Z" fill="#909090"/>
<g shape-rendering="crispEdges">
<rect x="5" y="40" width="223" height="68" fill="#fff"/>
<rect x="7" y="42" width="52" height="24" fill="url(#gb)"/>
<rect x="174" y="42" width="52" height="24" fill="url(#gb)"/>
<rect x="7" y="66" width="109" height="40" fill="url(#gb)"/>
<rect x="118" y="66" width="108" height="40" fill="url(#gb)"/>
<rect x="7" y="42" width="52" height="1" fill="#3c3ce0"/>
<rect x="7" y="42" width="1" height="24" fill="#3434d8"/>
<rect x="58" y="42" width="1" height="24" fill="#3434d8"/>
<rect x="174" y="42" width="52" height="1" fill="#3c3ce0"/>
<rect x="174" y="42" width="1" height="24" fill="#3434d8"/>
<rect x="225" y="42" width="1" height="24" fill="#3434d8"/>
<rect x="7" y="66" width="1" height="40" fill="#0a0ab0"/>
<rect x="115" y="66" width="1" height="40" fill="#0a0ab0"/>
<rect x="7" y="105" width="109" height="1" fill="#000090"/>
<rect x="118" y="66" width="1" height="40" fill="#0a0ab0"/>
<rect x="225" y="66" width="1" height="40" fill="#0a0ab0"/>
<rect x="118" y="105" width="108" height="1" fill="#000090"/>
<rect x="59" y="66" width="57" height="1" fill="#2020c8"/>
<rect x="118" y="66" width="56" height="1" fill="#2020c8"/>
<rect x="11" y="65" width="45" height="1" fill="#14148c"/>
<rect x="178" y="65" width="45" height="1" fill="#14148c"/>
<rect x="11" y="66" width="45" height="1" fill="#5555e8"/>
<rect x="178" y="66" width="45" height="1" fill="#5555e8"/>
<rect x="61" y="42" width="111" height="22" fill="#a8a8a8"/>
<rect x="62" y="43" width="109" height="20" fill="#fff"/>
<rect x="62" y="43" width="20" height="20" fill="url(#gs)"/>
<rect x="151" y="43" width="20" height="20" fill="url(#gs)"/>
<rect x="82" y="43" width="1" height="20" fill="#a8a8a8"/>
<rect x="150" y="43" width="1" height="20" fill="#a8a8a8"/>
</g>
<path d="M68.5 50.5 L74.5 50.5 L71.5 54 Z" fill="#5468c8"/><path d="M157.5 53.5 L164 53.5 L160.7 50 Z" fill="#5468c8"/>
<text x="19.6" y="58" font-size="11.7" fill="#fff" textLength="25.4" lengthAdjust="spacingAndGlyphs">SELL</text>
<text x="187.7" y="58" font-size="11.7" fill="#fff" textLength="23.3" lengthAdjust="spacingAndGlyphs">BUY</text>
<text x="123.7" y="57" font-size="13" fill="#000" textLength="23" lengthAdjust="spacingAndGlyphs">1.00</text>
<text x="27.8" y="97" font-size="12.4" fill="#fff" textLength="23" lengthAdjust="spacingAndGlyphs" font-weight="bold">1.10</text>
<text x="137.8" y="97" font-size="12.4" fill="#fff" textLength="23" lengthAdjust="spacingAndGlyphs" font-weight="bold">1.10</text>
<text x="55.6" y="97" font-size="35.3" fill="#fff" textLength="33" lengthAdjust="spacingAndGlyphs">85</text>
<text x="166.2" y="97" font-size="35.3" fill="#fff" textLength="33.5" lengthAdjust="spacingAndGlyphs">87</text>
<text x="94.4" y="81" font-size="12" fill="#fff" textLength="6.8" lengthAdjust="spacingAndGlyphs" font-weight="bold">6</text>
<text x="205.2" y="81" font-size="12" fill="#fff" textLength="6.8" lengthAdjust="spacingAndGlyphs" font-weight="bold">4</text>
</svg></body></html>
